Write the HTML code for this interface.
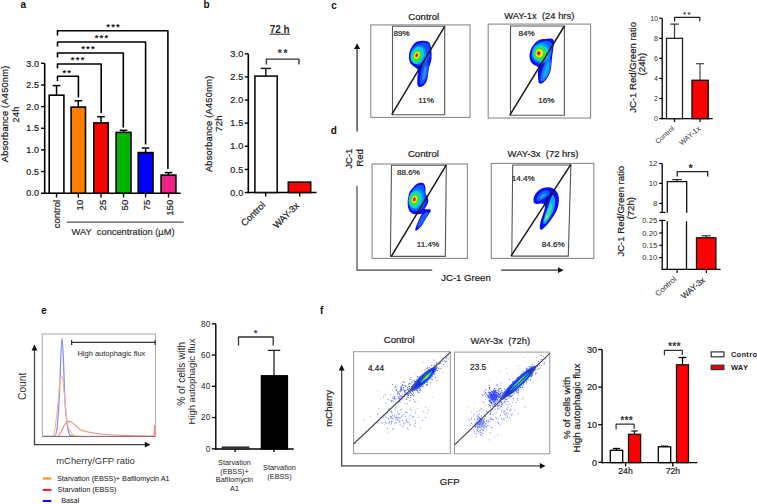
<!DOCTYPE html>
<html><head><meta charset="utf-8"><style>
html,body{margin:0;padding:0;background:#fff;overflow:hidden;}
svg{display:block;}
text{font-family:"Liberation Sans",sans-serif;}
</style></head><body>
<svg width="757" height="504" viewBox="0 0 757 504">
<rect width="757" height="504" fill="#fff"/>
<defs><filter id="b6" x="-50%" y="-50%" width="200%" height="200%"><feGaussianBlur stdDeviation="0.6"/></filter><filter id="b9" x="-50%" y="-50%" width="200%" height="200%"><feGaussianBlur stdDeviation="0.9"/></filter><filter id="b7" x="-50%" y="-50%" width="200%" height="200%"><feGaussianBlur stdDeviation="0.75"/></filter><filter id="b4" x="-50%" y="-50%" width="200%" height="200%"><feGaussianBlur stdDeviation="0.4"/></filter><filter id="b3" x="-50%" y="-50%" width="200%" height="200%"><feGaussianBlur stdDeviation="0.3"/></filter></defs>
<text x="20.5" y="8" font-size="10" text-anchor="start" font-weight="bold" fill="#111" stroke="#111" stroke-width="0" >a</text>
<line x1="44.7" y1="63.3" x2="44.7" y2="193.95" stroke="#000" stroke-width="1.6"/>
<line x1="41" y1="63.3" x2="44.7" y2="63.3" stroke="#000" stroke-width="1.4"/>
<text x="39.3" y="66.5" font-size="8.9" text-anchor="end" font-weight="normal" fill="#1e1e1e" stroke="#1e1e1e" stroke-width="0.22" letter-spacing="0.25">3.0</text>
<line x1="41" y1="84.94999999999999" x2="44.7" y2="84.94999999999999" stroke="#000" stroke-width="1.4"/>
<text x="39.3" y="88.14999999999999" font-size="8.9" text-anchor="end" font-weight="normal" fill="#1e1e1e" stroke="#1e1e1e" stroke-width="0.22" letter-spacing="0.25">2.5</text>
<line x1="41" y1="106.6" x2="44.7" y2="106.6" stroke="#000" stroke-width="1.4"/>
<text x="39.3" y="109.8" font-size="8.9" text-anchor="end" font-weight="normal" fill="#1e1e1e" stroke="#1e1e1e" stroke-width="0.22" letter-spacing="0.25">2.0</text>
<line x1="41" y1="128.25" x2="44.7" y2="128.25" stroke="#000" stroke-width="1.4"/>
<text x="39.3" y="131.45" font-size="8.9" text-anchor="end" font-weight="normal" fill="#1e1e1e" stroke="#1e1e1e" stroke-width="0.22" letter-spacing="0.25">1.5</text>
<line x1="41" y1="149.89999999999998" x2="44.7" y2="149.89999999999998" stroke="#000" stroke-width="1.4"/>
<text x="39.3" y="153.09999999999997" font-size="8.9" text-anchor="end" font-weight="normal" fill="#1e1e1e" stroke="#1e1e1e" stroke-width="0.22" letter-spacing="0.25">1.0</text>
<line x1="41" y1="171.55" x2="44.7" y2="171.55" stroke="#000" stroke-width="1.4"/>
<text x="39.3" y="174.75" font-size="8.9" text-anchor="end" font-weight="normal" fill="#1e1e1e" stroke="#1e1e1e" stroke-width="0.22" letter-spacing="0.25">0.5</text>
<line x1="41" y1="193.2" x2="44.7" y2="193.2" stroke="#000" stroke-width="1.4"/>
<text x="39.3" y="196.39999999999998" font-size="8.9" text-anchor="end" font-weight="normal" fill="#1e1e1e" stroke="#1e1e1e" stroke-width="0.22" letter-spacing="0.25">0.0</text>
<line x1="43.95" y1="193.2" x2="180.7" y2="193.2" stroke="#000" stroke-width="1.6"/>
<line x1="56.55" y1="95.2" x2="56.55" y2="85.6" stroke="#000" stroke-width="1.5"/>
<line x1="52.75" y1="85.6" x2="60.349999999999994" y2="85.6" stroke="#000" stroke-width="1.5"/>
<rect x="49.2" y="95.2" width="14.70" height="98.00" fill="#fff" stroke="#000" stroke-width="1.6"/>
<line x1="56.55" y1="193.2" x2="56.55" y2="197.4" stroke="#000" stroke-width="1.4"/>
<line x1="78.3" y1="107.1" x2="78.3" y2="100.8" stroke="#000" stroke-width="1.5"/>
<line x1="74.5" y1="100.8" x2="82.1" y2="100.8" stroke="#000" stroke-width="1.5"/>
<rect x="71.1" y="107.1" width="14.40" height="86.10" fill="#ff8000" stroke="#000" stroke-width="1.6"/>
<line x1="78.3" y1="193.2" x2="78.3" y2="197.4" stroke="#000" stroke-width="1.4"/>
<line x1="101.0" y1="122.9" x2="101.0" y2="116.7" stroke="#000" stroke-width="1.5"/>
<line x1="97.2" y1="116.7" x2="104.8" y2="116.7" stroke="#000" stroke-width="1.5"/>
<rect x="93.8" y="122.9" width="14.40" height="70.30" fill="#ff0000" stroke="#000" stroke-width="1.6"/>
<line x1="101.0" y1="193.2" x2="101.0" y2="197.4" stroke="#000" stroke-width="1.4"/>
<line x1="123.55" y1="132.4" x2="123.55" y2="130.3" stroke="#000" stroke-width="1.5"/>
<line x1="119.75" y1="130.3" x2="127.35" y2="130.3" stroke="#000" stroke-width="1.5"/>
<rect x="116.1" y="132.4" width="14.90" height="60.80" fill="#00b400" stroke="#000" stroke-width="1.6"/>
<line x1="123.55" y1="193.2" x2="123.55" y2="197.4" stroke="#000" stroke-width="1.4"/>
<line x1="145.6" y1="152.6" x2="145.6" y2="148.0" stroke="#000" stroke-width="1.5"/>
<line x1="141.79999999999998" y1="148.0" x2="149.4" y2="148.0" stroke="#000" stroke-width="1.5"/>
<rect x="138.2" y="152.6" width="14.80" height="40.60" fill="#0000ff" stroke="#000" stroke-width="1.6"/>
<line x1="145.6" y1="193.2" x2="145.6" y2="197.4" stroke="#000" stroke-width="1.4"/>
<line x1="168.5" y1="175.1" x2="168.5" y2="172.6" stroke="#000" stroke-width="1.5"/>
<line x1="164.7" y1="172.6" x2="172.3" y2="172.6" stroke="#000" stroke-width="1.5"/>
<rect x="161.1" y="175.1" width="14.80" height="18.10" fill="#ee2288" stroke="#000" stroke-width="1.6"/>
<line x1="168.5" y1="193.2" x2="168.5" y2="197.4" stroke="#000" stroke-width="1.4"/>
<text x="59.949999999999996" y="199.8" font-size="9.5" text-anchor="end" font-weight="normal" fill="#1e1e1e" stroke="#1e1e1e" stroke-width="0.22" transform="rotate(-90 59.949999999999996 199.8)" >control</text>
<text x="83.1" y="199.8" font-size="9.5" text-anchor="end" font-weight="normal" fill="#1e1e1e" stroke="#1e1e1e" stroke-width="0.22" transform="rotate(-90 83.1 199.8)" >10</text>
<text x="105.8" y="199.8" font-size="9.5" text-anchor="end" font-weight="normal" fill="#1e1e1e" stroke="#1e1e1e" stroke-width="0.22" transform="rotate(-90 105.8 199.8)" >25</text>
<text x="128.35" y="199.8" font-size="9.5" text-anchor="end" font-weight="normal" fill="#1e1e1e" stroke="#1e1e1e" stroke-width="0.22" transform="rotate(-90 128.35 199.8)" >50</text>
<text x="150.4" y="199.8" font-size="9.5" text-anchor="end" font-weight="normal" fill="#1e1e1e" stroke="#1e1e1e" stroke-width="0.22" transform="rotate(-90 150.4 199.8)" >75</text>
<text x="173.3" y="199.8" font-size="9.5" text-anchor="end" font-weight="normal" fill="#1e1e1e" stroke="#1e1e1e" stroke-width="0.22" transform="rotate(-90 173.3 199.8)" >150</text>
<line x1="66.7" y1="222.1" x2="183.7" y2="222.1" stroke="#555" stroke-width="1.1"/>
<text x="71.5" y="235.4" font-size="9.3" text-anchor="start" font-weight="normal" fill="#333" stroke="#333" stroke-width="0.22" >WAY&#160;&#160;concentration (µM)</text>
<text x="8.1" y="113.9" font-size="9.2" text-anchor="middle" font-weight="normal" fill="#1e1e1e" stroke="#1e1e1e" stroke-width="0.22" transform="rotate(-90 8.1 113.9)" letter-spacing="0.25">Absorbance (A450nm)</text>
<text x="19.5" y="114.4" font-size="9.2" text-anchor="middle" font-weight="normal" fill="#1e1e1e" stroke="#1e1e1e" stroke-width="0.22" transform="rotate(-90 19.5 114.4)" letter-spacing="0.25">24h</text>
<path d="M57.5 35.4 V30.8 H167.9 V168.9" stroke="#000" stroke-width="1.6" fill="none" stroke-linejoin="round"/>
<text x="106.26" y="30.05" font-size="9.5" font-weight="bold" fill="#1a1a1a" letter-spacing="1.2">***</text>
<path d="M57.5 46.6 V42.0 H145.6 V144.6" stroke="#000" stroke-width="1.6" fill="none" stroke-linejoin="round"/>
<text x="94.66" y="41.45" font-size="9.5" font-weight="bold" fill="#1a1a1a" letter-spacing="1.2">***</text>
<path d="M57.5 57.6 V53.0 H123.3 V127.5" stroke="#000" stroke-width="1.6" fill="none" stroke-linejoin="round"/>
<text x="81.16" y="51.66" font-size="9.5" font-weight="bold" fill="#1a1a1a" letter-spacing="1.2">***</text>
<path d="M57.5 68.6 V64.0 H101.2 V113.0" stroke="#000" stroke-width="1.6" fill="none" stroke-linejoin="round"/>
<text x="70.86" y="63.25" font-size="9.5" font-weight="bold" fill="#1a1a1a" letter-spacing="1.2">***</text>
<path d="M57.5 80.89999999999999 V76.3 H78.4 V97.6" stroke="#000" stroke-width="1.6" fill="none" stroke-linejoin="round"/>
<text x="62.40" y="76.16" font-size="9.5" font-weight="bold" fill="#1a1a1a" letter-spacing="1.2">**</text>
<text x="203.5" y="7.6" font-size="10" text-anchor="start" font-weight="bold" fill="#111" stroke="#111" stroke-width="0" >b</text>
<text x="279.7" y="33.3" font-size="10" text-anchor="middle" font-weight="bold" fill="#2a2a2a" stroke="#2a2a2a" stroke-width="0" >72 h</text>
<line x1="269.6" y1="34.2" x2="290.0" y2="34.2" stroke="#333" stroke-width="1.1"/>
<line x1="248.3" y1="53.8" x2="248.3" y2="193.2" stroke="#000" stroke-width="1.6"/>
<line x1="244.8" y1="53.8" x2="248.3" y2="53.8" stroke="#000" stroke-width="1.4"/>
<text x="243.4" y="57.0" font-size="9.0" text-anchor="end" font-weight="normal" fill="#1e1e1e" stroke="#1e1e1e" stroke-width="0.22" letter-spacing="0.25">3.0</text>
<line x1="244.8" y1="76.92" x2="248.3" y2="76.92" stroke="#000" stroke-width="1.4"/>
<text x="243.4" y="80.12" font-size="9.0" text-anchor="end" font-weight="normal" fill="#1e1e1e" stroke="#1e1e1e" stroke-width="0.22" letter-spacing="0.25">2.5</text>
<line x1="244.8" y1="100.03999999999999" x2="248.3" y2="100.03999999999999" stroke="#000" stroke-width="1.4"/>
<text x="243.4" y="103.24" font-size="9.0" text-anchor="end" font-weight="normal" fill="#1e1e1e" stroke="#1e1e1e" stroke-width="0.22" letter-spacing="0.25">2.0</text>
<line x1="244.8" y1="123.16" x2="248.3" y2="123.16" stroke="#000" stroke-width="1.4"/>
<text x="243.4" y="126.36" font-size="9.0" text-anchor="end" font-weight="normal" fill="#1e1e1e" stroke="#1e1e1e" stroke-width="0.22" letter-spacing="0.25">1.5</text>
<line x1="244.8" y1="146.28" x2="248.3" y2="146.28" stroke="#000" stroke-width="1.4"/>
<text x="243.4" y="149.48" font-size="9.0" text-anchor="end" font-weight="normal" fill="#1e1e1e" stroke="#1e1e1e" stroke-width="0.22" letter-spacing="0.25">1.0</text>
<line x1="244.8" y1="169.4" x2="248.3" y2="169.4" stroke="#000" stroke-width="1.4"/>
<text x="243.4" y="172.6" font-size="9.0" text-anchor="end" font-weight="normal" fill="#1e1e1e" stroke="#1e1e1e" stroke-width="0.22" letter-spacing="0.25">0.5</text>
<line x1="244.8" y1="192.51999999999998" x2="248.3" y2="192.51999999999998" stroke="#000" stroke-width="1.4"/>
<text x="243.4" y="195.71999999999997" font-size="9.0" text-anchor="end" font-weight="normal" fill="#1e1e1e" stroke="#1e1e1e" stroke-width="0.22" letter-spacing="0.25">0.0</text>
<line x1="247.60000000000002" y1="192.5" x2="316.6" y2="192.5" stroke="#000" stroke-width="1.6"/>
<line x1="265.8" y1="76.1" x2="265.8" y2="68.4" stroke="#222" stroke-width="1.5"/>
<line x1="260.6" y1="68.4" x2="271.0" y2="68.4" stroke="#222" stroke-width="1.5"/>
<rect x="254.9" y="76.1" width="22.30" height="116.40" fill="#fff" stroke="#111" stroke-width="1.6"/>
<rect x="288.3" y="182.1" width="22.40" height="10.40" fill="#ff0000" stroke="#111" stroke-width="1.6"/>
<line x1="265.7" y1="192.5" x2="265.7" y2="196.5" stroke="#000" stroke-width="1.4"/>
<line x1="299.7" y1="192.5" x2="299.7" y2="196.5" stroke="#000" stroke-width="1.4"/>
<path d="M266.4 64.6 V59.1 H299.0 V64.6" stroke="#333" stroke-width="1.4" fill="none" stroke-linejoin="round"/>
<text x="277.72" y="57.14" font-size="10.5" font-weight="bold" fill="#333" letter-spacing="1.6">**</text>
<text x="266.0" y="205.6" font-size="9.3" text-anchor="end" font-weight="normal" fill="#1e1e1e" stroke="#1e1e1e" stroke-width="0.22" transform="rotate(-45 266.0 205.6)" >Control</text>
<text x="299.7" y="206.2" font-size="9.3" text-anchor="end" font-weight="normal" fill="#1e1e1e" stroke="#1e1e1e" stroke-width="0.22" transform="rotate(-45 299.7 206.2)" >WAY-3x</text>
<text x="212.0" y="123.75" font-size="9.2" text-anchor="middle" font-weight="normal" fill="#1e1e1e" stroke="#1e1e1e" stroke-width="0.22" transform="rotate(-90 212.0 123.75)" letter-spacing="0.25">Absorbance (A450nm)</text>
<text x="222.4" y="123.5" font-size="9.5" text-anchor="middle" font-weight="normal" fill="#1e1e1e" stroke="#1e1e1e" stroke-width="0.22" transform="rotate(-90 222.4 123.5)" letter-spacing="0.25">72h</text>
<text x="331.2" y="8.7" font-size="10" text-anchor="start" font-weight="bold" fill="#111" stroke="#111" stroke-width="0" >c</text>
<path d="M357.1 131.6 V48" stroke="#333" stroke-width="1.3" fill="none" />
<path d="M354.1 48.9 L357.1 43.2 L360.1 48.9 Z" fill="#111" />
<rect x="370.8" y="24.9" width="99.20" height="92.50" fill="none" stroke="#8a8a8a" stroke-width="1.1"/>
<path d="M392.5 26.3 L444.7 26.3 L444.7 114.7 L392.5 114.7 Z" stroke="#555" stroke-width="1.1" fill="none" />
<text x="423.8" y="20.2" font-size="9.6" text-anchor="middle" font-weight="normal" fill="#1e1e1e" stroke="#1e1e1e" stroke-width="0.22" >Control</text>
<text x="393.6" y="36.4" font-size="8.1" text-anchor="start" font-weight="normal" fill="#1e1e1e" stroke="#1e1e1e" stroke-width="0.22" >89%</text>
<text x="418.3" y="102.6" font-size="8.1" text-anchor="start" font-weight="normal" fill="#1e1e1e" stroke="#1e1e1e" stroke-width="0.22" >11%</text>
<rect x="488.2" y="24.1" width="102.40" height="93.90" fill="none" stroke="#8a8a8a" stroke-width="1.1"/>
<path d="M510.5 26 L564.4 26 L564.4 115.3 L510.5 115.3 Z" stroke="#555" stroke-width="1.1" fill="none" />
<text x="539.3" y="19.3" font-size="9.4" text-anchor="middle" font-weight="normal" fill="#1e1e1e" stroke="#1e1e1e" stroke-width="0.22" >WAY-1x&#160; (24 hrs)</text>
<text x="518.6" y="36.4" font-size="8.1" text-anchor="start" font-weight="normal" fill="#1e1e1e" stroke="#1e1e1e" stroke-width="0.22" >84%</text>
<text x="538.2" y="102.6" font-size="8.1" text-anchor="start" font-weight="normal" fill="#1e1e1e" stroke="#1e1e1e" stroke-width="0.22" >16%</text>
<g filter="url(#b6)">
<path d="M411.9 46.9 C414 43 416 41.5 420 41 C424 40.4 427.4 40.2 429.8 43.3 C431.5 47 431.8 52.9 431.5 58.8 C431 63 429 66 428.6 70 C428 75 427.5 79 426.8 81 C425 85 423 86.5 420 87 C417.5 87 417 84 417.3 80.2 C417.5 76 417.9 72 417.9 69.5 C416.5 68.5 415.5 68 414.9 67.1 C412.5 65.5 410.8 64 410.1 62.4 C409 60 408.8 58 408.9 56.4 C409 53 409.5 50 411.9 46.9 Z" fill="#0a0af0" />
<path d="M413 48 C416 43.5 421 42.5 426 42.8 C429.5 43.5 430.5 48 430 55 C429.5 60 427 64 423 65.5 C419 66.5 414 65 411.5 61 C410 57 410.5 51 413 48 Z" fill="#0a50ff" />
<path d="M425 62 C428 60 429.5 63 428.5 70 C428 76 426 82 422 84.5 C420 85 419.5 82 420 78 C421 72 422 65 425 62 Z" fill="#1850ff" />
<path d="M425.5 66 C427 66 427 70 426 74 C425 78 423.5 81 422.5 80.5 C422 79 422.5 75 423.5 71 C424 68 424.8 66 425.5 66 Z" fill="#2a90ff" />
</g>
<g filter="url(#b7)">
<ellipse cx="418.2" cy="54.8" rx="7.5" ry="9.5" fill="#0090ff" transform="rotate(20 418.2 54.8)"/>
<ellipse cx="417.4" cy="55.3" rx="6.4" ry="8.8" fill="#00d0f0" transform="rotate(20 417.4 55.3)"/>
<ellipse cx="416.6" cy="56.2" rx="4.8" ry="6.8" fill="#30e050" transform="rotate(20 416.6 56.2)"/>
<ellipse cx="416.8" cy="55.3" rx="2.7" ry="3.7" fill="#f0f000" transform="rotate(20 416.8 55.3)"/>
<ellipse cx="416.7" cy="55.2" rx="1.5" ry="2.2" fill="#ff5000" transform="rotate(20 416.7 55.2)"/>
<ellipse cx="416.7" cy="55.2" rx="0.8" ry="1.3" fill="#d00000" transform="rotate(20 416.7 55.2)"/>
</g>
<line x1="391.7" y1="114.7" x2="444.7" y2="26.3" stroke="#1a1a1a" stroke-width="1.5"/>
<g filter="url(#b6)">
<path d="M535.5 42.5 C538 40 541 39 543.8 39 C547 38.6 549 38.3 551 38.4 C553 38.6 554.2 40 553.9 41.3 C553.8 44 553.5 46 553.3 48.5 C553 51 552.5 54 552.1 56.8 C551.8 61 551.5 65 551 68.7 C550 73 548.5 77 546.2 79.4 C544 82 542 83.8 540.2 83.6 C538.8 83.5 538.5 82.5 538.5 81.8 C538 78 537.8 75 537.9 72.3 C538 70 538.3 68.5 538.5 67.5 C537 66.5 535.5 65.8 534.3 65.1 C532.5 64 531.5 63 530.7 61.6 C529.8 59.5 529.4 57.5 529.5 55.6 C529.8 52 530.5 49.5 531.9 47.3 C533 45.5 534.2 43.8 535.5 42.5 Z" fill="#1010f0" />
<path d="M533 49 C535 44 540 41.5 546 41 C551 40.8 552.5 43 552 49 C551.5 56 549 61.5 544 63.5 C539 64.5 534 63 532 59 C531 56 531.5 52 533 49 Z" fill="#0a60ff" />
<path d="M549 58 C551.5 58 551.5 65 550 70 C548.5 76 545 81 541.5 81.5 C540 81 540.5 77 541.5 73 C543 67 546 59 549 58 Z" fill="#1f70ff" />
<path d="M548.5 62 C550 63 549.5 68 548 72 C546.5 76 544 79 543 78.5 C542.5 77 543.5 73 545 69 C546 66 547.5 62 548.5 62 Z" fill="#10b0ff" />
</g>
<g filter="url(#b7)">
<ellipse cx="541.5" cy="52.5" rx="9.5" ry="10" fill="#0090ff" transform="rotate(15 541.5 52.5)"/>
<ellipse cx="540.6" cy="53.2" rx="8.0" ry="8.6" fill="#00d0f0" transform="rotate(15 540.6 53.2)"/>
<ellipse cx="540.0" cy="53.3" rx="6.4" ry="7.2" fill="#30e050" transform="rotate(15 540.0 53.3)"/>
<ellipse cx="539.3" cy="53.3" rx="3.6" ry="4.0" fill="#f0f000" transform="rotate(15 539.3 53.3)"/>
<ellipse cx="538.7" cy="53.2" rx="2.0" ry="2.4" fill="#ff5000" transform="rotate(15 538.7 53.2)"/>
<ellipse cx="538.6" cy="53.2" rx="1.1" ry="1.4" fill="#d00000" transform="rotate(15 538.6 53.2)"/>
</g>
<line x1="509.7" y1="115.3" x2="564.4" y2="26" stroke="#1a1a1a" stroke-width="1.5"/>
<line x1="662.2" y1="18.2" x2="662.2" y2="119.19999999999999" stroke="#000" stroke-width="1.3"/>
<line x1="659.2" y1="18.2" x2="662.2" y2="18.2" stroke="#000" stroke-width="1.2"/>
<text x="658.0" y="20.7" font-size="7.0" text-anchor="end" font-weight="normal" fill="#333" stroke="#333" stroke-width="0" >10</text>
<line x1="659.2" y1="38.28" x2="662.2" y2="38.28" stroke="#000" stroke-width="1.2"/>
<text x="658.0" y="40.78" font-size="7.0" text-anchor="end" font-weight="normal" fill="#333" stroke="#333" stroke-width="0" >8</text>
<line x1="659.2" y1="58.36" x2="662.2" y2="58.36" stroke="#000" stroke-width="1.2"/>
<text x="658.0" y="60.86" font-size="7.0" text-anchor="end" font-weight="normal" fill="#333" stroke="#333" stroke-width="0" >6</text>
<line x1="659.2" y1="78.44" x2="662.2" y2="78.44" stroke="#000" stroke-width="1.2"/>
<text x="658.0" y="80.94" font-size="7.0" text-anchor="end" font-weight="normal" fill="#333" stroke="#333" stroke-width="0" >4</text>
<line x1="659.2" y1="98.52" x2="662.2" y2="98.52" stroke="#000" stroke-width="1.2"/>
<text x="658.0" y="101.02" font-size="7.0" text-anchor="end" font-weight="normal" fill="#333" stroke="#333" stroke-width="0" >2</text>
<line x1="659.2" y1="118.6" x2="662.2" y2="118.6" stroke="#000" stroke-width="1.2"/>
<text x="658.0" y="121.1" font-size="7.0" text-anchor="end" font-weight="normal" fill="#333" stroke="#333" stroke-width="0" >0</text>
<line x1="661.6" y1="118.6" x2="712.7" y2="118.6" stroke="#000" stroke-width="1.3"/>
<line x1="674.5" y1="38.3" x2="674.5" y2="24.1" stroke="#333" stroke-width="1.2"/>
<line x1="670.2" y1="24.1" x2="678.8" y2="24.1" stroke="#333" stroke-width="1.2"/>
<rect x="666.5" y="38.3" width="16.00" height="80.30" fill="#fff" stroke="#222" stroke-width="1.3"/>
<line x1="700.0" y1="80.3" x2="700.0" y2="63.7" stroke="#444" stroke-width="1.2"/>
<line x1="696.0" y1="63.7" x2="704.0" y2="63.7" stroke="#444" stroke-width="1.2"/>
<rect x="692.0" y="80.3" width="16.20" height="38.30" fill="#ff0000" stroke="#111" stroke-width="1.4"/>
<line x1="674.5" y1="118.6" x2="674.5" y2="122" stroke="#000" stroke-width="1.2"/>
<line x1="700" y1="118.6" x2="700" y2="122" stroke="#000" stroke-width="1.2"/>
<path d="M674.6 21.5 V17.4 H699.8 V21.5" stroke="#222" stroke-width="1.2" fill="none" stroke-linejoin="round"/>
<text x="682.94" y="17.42" font-size="8" font-weight="bold" fill="#333" letter-spacing="1.5">**</text>
<text x="674.7" y="129.2" font-size="7.0" text-anchor="end" font-weight="normal" fill="#3a3a3a" stroke="#3a3a3a" stroke-width="0" transform="rotate(-42 674.7 129.2)" >Control</text>
<text x="701.0" y="129.4" font-size="7.3" text-anchor="end" font-weight="normal" fill="#3a3a3a" stroke="#3a3a3a" stroke-width="0" transform="rotate(-40 701.0 129.4)" >WAY-1x</text>
<text x="636.0" y="67.35" font-size="9.55" text-anchor="middle" font-weight="normal" fill="#1e1e1e" stroke="#1e1e1e" stroke-width="0.22" transform="rotate(-90 636.0 67.35)" >JC-1 Red/Green ratio</text>
<text x="645.1" y="64.1" font-size="9.7" text-anchor="middle" font-weight="normal" fill="#1e1e1e" stroke="#1e1e1e" stroke-width="0.22" transform="rotate(-90 645.1 64.1)" >(24h)</text>
<text x="330.7" y="134.4" font-size="10" text-anchor="start" font-weight="bold" fill="#111" stroke="#111" stroke-width="0" >d</text>
<text x="352.3" y="158.7" font-size="9.6" text-anchor="middle" font-weight="normal" fill="#1e1e1e" stroke="#1e1e1e" stroke-width="0.22" transform="rotate(-90 352.3 158.7)" >JC-1</text>
<text x="362.8" y="157.9" font-size="9.6" text-anchor="middle" font-weight="normal" fill="#1e1e1e" stroke="#1e1e1e" stroke-width="0.22" transform="rotate(-90 362.8 157.9)" >Red</text>
<path d="M357 185.7 V270.2 H432.2" stroke="#444" stroke-width="1.2" fill="none" />
<text x="441.2" y="281.2" font-size="9.6" text-anchor="start" font-weight="normal" fill="#1e1e1e" stroke="#1e1e1e" stroke-width="0.22" >JC-1 Green</text>
<path d="M501.1 270.2 H559" stroke="#333" stroke-width="1.3" fill="none" />
<path d="M558 267.3 L563.6 270.2 L558 273.1 Z" fill="#111" />
<rect x="372.1" y="164.0" width="95.30" height="94.40" fill="none" stroke="#8a8a8a" stroke-width="1.1"/>
<path d="M391.5 165.2 L446.3 165.2 L445.3 256.4 L390.40000000000003 256.4 Z" stroke="#555" stroke-width="1.1" fill="none" />
<text x="423.4" y="157.2" font-size="9.6" text-anchor="middle" font-weight="normal" fill="#1e1e1e" stroke="#1e1e1e" stroke-width="0.22" >Control</text>
<text x="397.0" y="175.0" font-size="8.1" text-anchor="start" font-weight="normal" fill="#1e1e1e" stroke="#1e1e1e" stroke-width="0.22" >88.6%</text>
<text x="416.8" y="247.4" font-size="8.1" text-anchor="start" font-weight="normal" fill="#1e1e1e" stroke="#1e1e1e" stroke-width="0.22" >11.4%</text>
<rect x="491.3" y="163.4" width="102.50" height="95.00" fill="none" stroke="#8a8a8a" stroke-width="1.1"/>
<path d="M512.6999999999999 165.0 L570.9 165.0 L568.3 256.1 L511.8 256.1 Z" stroke="#555" stroke-width="1.1" fill="none" />
<text x="543.0" y="156.5" font-size="9.5" text-anchor="middle" font-weight="normal" fill="#1e1e1e" stroke="#1e1e1e" stroke-width="0.22" >WAY-3x&#160; (72 hrs)</text>
<text x="511.7" y="180.6" font-size="8.1" text-anchor="start" font-weight="normal" fill="#1e1e1e" stroke="#1e1e1e" stroke-width="0.22" >14.4%</text>
<text x="541.8" y="247.4" font-size="8.1" text-anchor="start" font-weight="normal" fill="#1e1e1e" stroke="#1e1e1e" stroke-width="0.22" >84.6%</text>
<g filter="url(#b6)">
<path d="M413.1 187.5 C415 185 417.5 183 420.2 182.8 C422 182.6 423 182.8 423.8 183.4 C425 185 425.6 187 425.6 188.7 C425.6 190.5 425.5 192 425.6 193.5 C426.2 195.5 427.5 196.5 428 198.2 C428.6 200.5 428.2 202.5 427.4 204.2 C426.5 206 425.5 207.5 424.4 209 C426 209.3 428.5 209.2 430.4 209.5 C431.2 210.5 430.8 211.8 429.8 212.5 C427.5 216 425.5 219.5 423.2 223.2 C421 226.5 418.5 229.8 416.7 230.4 C415.5 230.8 414.9 230 415.2 229.2 C416 226.5 417 224 417.9 222 C419 219 420.5 216 422 213.7 C420 214 417 214.3 414.3 214.3 C412.5 213.8 410.8 212.8 409.5 211.3 C408.3 209 407.8 206.5 407.7 204.2 C407.6 201.5 407.8 199 408.3 197 C408.8 194.5 409.3 192.5 410.1 191.1 C411 189.8 412 188.5 413.1 187.5 Z" fill="#1010f0" />
<path d="M412 192 C414 186 419 184.5 422.5 185 C425 186 424.5 192 425.5 196 C427 200 426 205 422 209 C418 212 413 212 410.5 209 C409 205 410 196 412 192 Z" fill="#0d5cff" />
<path d="M427 212 C429 211.5 428.5 214 426 218 C423.5 222 420 227 418 227.5 C417 227 418 223 420 219.5 C422 216 424.5 212.5 427 212 Z" fill="#1a60ff" />
</g>
<g filter="url(#b7)">
<ellipse cx="416.5" cy="198.5" rx="7.5" ry="10" fill="#0090ff" transform="rotate(15 416.5 198.5)"/>
<ellipse cx="415.3" cy="199.6" rx="6.6" ry="9.0" fill="#00d0f0" transform="rotate(15 415.3 199.6)"/>
<ellipse cx="414.8" cy="199.5" rx="5.0" ry="6.9" fill="#30e050" transform="rotate(15 414.8 199.5)"/>
<ellipse cx="414.5" cy="199.4" rx="2.7" ry="3.8" fill="#f0f000" transform="rotate(15 414.5 199.4)"/>
<ellipse cx="414.3" cy="199.4" rx="1.6" ry="2.3" fill="#ff5000" transform="rotate(15 414.3 199.4)"/>
<ellipse cx="414.3" cy="199.4" rx="0.9" ry="1.4" fill="#d00000" transform="rotate(15 414.3 199.4)"/>
</g>
<line x1="391.3" y1="256.4" x2="446.3" y2="164.8" stroke="#1a1a1a" stroke-width="1.5"/>
<g filter="url(#b6)">
<path d="M533.5 201 C533 196 537 190 543 188 C549 186 554 187.5 557 192 C560 197 559.5 205 556 212 C552 219 546 227 542 229.5 C539.5 230.5 539.3 227 540.5 222 C542 216 545.5 209 545 205 C543 202.5 540 204 537 204 C535 204 533.5 203 533.5 201 Z" fill="#1010f0" />
<path d="M536.5 199.5 C537 195.5 540.5 191.5 545 190.5 C548.5 190 550.5 191.5 549 194.5 C547 197 543 199.5 540 200.5 C538 201.2 536.5 201 536.5 199.5 Z" fill="#0a60ff" />
<path d="M539.5 197.5 C540.5 195.5 542.5 194 545 193.5 C546.5 193.3 547 194 546 195.5 C545 196.5 543 197.8 541.5 198.3 C540.2 198.7 539.3 198.3 539.5 197.5 Z" fill="#1a9cff" />
<path d="M552.5 195 C556 197 556 205 553 211.5 C550 218 546.5 223.5 544 224.5 C542.5 224 543.5 218 546 212 C548.5 206 550 199 552.5 195 Z" fill="#10a8ff" />
<path d="M551.5 203 C553 206 552 211 549.5 215.5 C547.5 219.5 545.5 222 544.6 221.5 C544.4 219 546 214 548 209.5 C549.5 206 550.5 202.5 551.5 203 Z" fill="#30e0a0" />
<ellipse cx="547.0" cy="217.0" rx="1.0" ry="2.2" fill="#c8e020" transform="rotate(30 547.0 217.0)"/>
</g>
<line x1="511.0" y1="256.1" x2="570.9" y2="164.4" stroke="#1a1a1a" stroke-width="1.5"/>
<line x1="662.2" y1="163.5" x2="662.2" y2="212.4" stroke="#000" stroke-width="1.3"/>
<line x1="659.8" y1="212.4" x2="665.4" y2="212.4" stroke="#000" stroke-width="1.2"/>
<line x1="662.2" y1="220.4" x2="662.2" y2="270.0" stroke="#000" stroke-width="1.3"/>
<line x1="659.8" y1="220.4" x2="665.4" y2="220.4" stroke="#000" stroke-width="1.2"/>
<line x1="659.2" y1="163.5" x2="662.2" y2="163.5" stroke="#000" stroke-width="1.2"/>
<text x="657.2" y="166.1" font-size="7.7" text-anchor="end" font-weight="normal" fill="#333" stroke="#333" stroke-width="0" >12</text>
<line x1="659.2" y1="183.4" x2="662.2" y2="183.4" stroke="#000" stroke-width="1.2"/>
<text x="657.2" y="186.0" font-size="7.7" text-anchor="end" font-weight="normal" fill="#333" stroke="#333" stroke-width="0" >10</text>
<line x1="659.2" y1="203.4" x2="662.2" y2="203.4" stroke="#000" stroke-width="1.2"/>
<text x="657.2" y="206.0" font-size="7.7" text-anchor="end" font-weight="normal" fill="#333" stroke="#333" stroke-width="0" >8</text>
<line x1="659.2" y1="220.5" x2="662.2" y2="220.5" stroke="#000" stroke-width="1.2"/>
<text x="657.2" y="223.1" font-size="7.7" text-anchor="end" font-weight="normal" fill="#333" stroke="#333" stroke-width="0" >0.25</text>
<line x1="659.2" y1="233.0" x2="662.2" y2="233.0" stroke="#000" stroke-width="1.2"/>
<text x="657.2" y="235.6" font-size="7.7" text-anchor="end" font-weight="normal" fill="#333" stroke="#333" stroke-width="0" >0.20</text>
<line x1="659.2" y1="245.3" x2="662.2" y2="245.3" stroke="#000" stroke-width="1.2"/>
<text x="657.2" y="247.9" font-size="7.7" text-anchor="end" font-weight="normal" fill="#333" stroke="#333" stroke-width="0" >0.15</text>
<line x1="659.2" y1="257.6" x2="662.2" y2="257.6" stroke="#000" stroke-width="1.2"/>
<text x="657.2" y="260.20000000000005" font-size="7.7" text-anchor="end" font-weight="normal" fill="#333" stroke="#333" stroke-width="0" >0.10</text>
<line x1="661.6" y1="269.4" x2="720.6" y2="269.4" stroke="#000" stroke-width="1.3"/>
<line x1="677.0" y1="181.6" x2="677.0" y2="179.6" stroke="#222" stroke-width="1.2"/>
<line x1="672.2" y1="179.6" x2="681.8" y2="179.6" stroke="#222" stroke-width="1.2"/>
<path d="M667.3 212.8 V181.6 H686.7 V212.8" stroke="#111" stroke-width="1.3" fill="none" />
<path d="M667.3 269.4 V221.2 M686.5 221.2 V269.4" stroke="#111" stroke-width="1.3" fill="none" />
<line x1="706.2" y1="237.8" x2="706.2" y2="235.8" stroke="#333" stroke-width="1.2"/>
<line x1="701.6" y1="235.8" x2="710.8000000000001" y2="235.8" stroke="#333" stroke-width="1.2"/>
<rect x="696.5" y="237.8" width="19.40" height="31.60" fill="#ff0000" stroke="#111" stroke-width="1.3"/>
<line x1="677.1" y1="269.4" x2="677.1" y2="273" stroke="#000" stroke-width="1.2"/>
<line x1="706.3" y1="269.4" x2="706.3" y2="273" stroke="#000" stroke-width="1.2"/>
<path d="M677.2 176.5 V171.6 H707.7 V176.5" stroke="#222" stroke-width="1.3" fill="none" stroke-linejoin="round"/>
<text x="688.46" y="171.99" font-size="11" font-weight="bold" fill="#222" letter-spacing="0">*</text>
<text x="677.0" y="279.8" font-size="7.9" text-anchor="end" font-weight="normal" fill="#3a3a3a" stroke="#3a3a3a" stroke-width="0" transform="rotate(-42 677.0 279.8)" >Control</text>
<text x="705.7" y="281.0" font-size="8.2" text-anchor="end" font-weight="normal" fill="#3a3a3a" stroke="#3a3a3a" stroke-width="0.22" transform="rotate(-40 705.7 281.0)" >WAY-3x</text>
<text x="623.7" y="211.2" font-size="9.55" text-anchor="middle" font-weight="normal" fill="#1e1e1e" stroke="#1e1e1e" stroke-width="0.22" transform="rotate(-90 623.7 211.2)" >JC-1 Red/Green ratio</text>
<text x="633.6" y="208.2" font-size="9.7" text-anchor="middle" font-weight="normal" fill="#1e1e1e" stroke="#1e1e1e" stroke-width="0.22" transform="rotate(-90 633.6 208.2)" >(72h)</text>
<text x="41.2" y="313.8" font-size="10" text-anchor="start" font-weight="bold" fill="#111" stroke="#111" stroke-width="0" >e</text>
<text x="25.6" y="386.3" font-size="10.2" text-anchor="middle" font-weight="normal" fill="#333" stroke="#333" stroke-width="0.0" transform="rotate(-90 25.6 386.3)" >Count</text>
<path d="M34.5 445.3 V349" stroke="#444" stroke-width="1.3" fill="none" />
<path d="M31.6 350.4 L34.5 344.6 L37.4 350.4 Z" fill="#111" />
<path d="M34.5 444.7 H146" stroke="#444" stroke-width="1.3" fill="none" />
<path d="M144.8 441.8 L150.5 444.7 L144.8 447.6 Z" fill="#111" />
<rect x="42.3" y="334.0" width="113.30" height="102.60" fill="none" stroke="#aaa" stroke-width="1.0"/>
<line x1="71.6" y1="342.4" x2="155.6" y2="342.4" stroke="#333" stroke-width="1.2"/>
<line x1="71.6" y1="340" x2="71.6" y2="345" stroke="#333" stroke-width="1.2"/>
<line x1="155.1" y1="340" x2="155.1" y2="345" stroke="#333" stroke-width="1.2"/>
<text x="77.4" y="356.3" font-size="7.5" text-anchor="start" font-weight="normal" fill="#1e1e1e" stroke="#1e1e1e" stroke-width="0" >High autophagic flux</text>
<path d="M43 436.3 L55 436.3 C57 435 58.5 420 60 380 C61 350 61.5 339 62 338.7 C62.5 339 63.2 350 64.3 385 C65.3 415 67 430 70 435.5 L74 436.3" stroke="#8c8cf0" stroke-width="1.3" fill="none" />
<path d="M53 436.3 C55 434 57 415 59.5 385 C60.5 376 61.5 375.5 62.5 378 C64 388 65.5 410 67 422 C68 428 70 433 74 435.5 L80 436.3" stroke="#f4b894" stroke-width="1.1" fill="none" />
<path d="M58 436.3 C60 435 62 430 64.5 425 C66.5 422 68.5 421 70 421.5 C73 422.5 76 426 80 429.5 C86 432.5 95 433.5 105 434.5 C115 435.3 130 435.8 154 436 L154.5 425 L155.5 436.3" stroke="#f08a8a" stroke-width="1.1" fill="none" />
<path d="M43 436.4 H155" stroke="#8a6a6a" stroke-width="1.0" fill="none" />
<text x="56.3" y="463.8" font-size="9.4" text-anchor="start" font-weight="normal" fill="#333" stroke="#333" stroke-width="0.0" >mCherry/GFP ratio</text>
<line x1="42.8" y1="478.5" x2="51.3" y2="478.5" stroke="#ff9020" stroke-width="2.1"/>
<text x="57.0" y="480.8" font-size="7.25" text-anchor="start" font-weight="normal" fill="#111" stroke="#111" stroke-width="0" >Starvation (EBSS)+ Bafilomycin A1</text>
<line x1="42.8" y1="489.9" x2="51.3" y2="489.9" stroke="#ee2020" stroke-width="2.1"/>
<text x="57.6" y="492.2" font-size="7.25" text-anchor="start" font-weight="normal" fill="#111" stroke="#111" stroke-width="0" >Starvation (EBSS)</text>
<line x1="42.8" y1="501" x2="51.3" y2="501" stroke="#1010ee" stroke-width="2.1"/>
<text x="61.2" y="503.4" font-size="7.25" text-anchor="start" font-weight="normal" fill="#111" stroke="#111" stroke-width="0" >Basal</text>
<line x1="215.8" y1="323.8" x2="215.8" y2="449.7" stroke="#000" stroke-width="1.4"/>
<line x1="211.8" y1="323.8" x2="215.8" y2="323.8" stroke="#000" stroke-width="1.3"/>
<text x="210.2" y="326.7" font-size="8.2" text-anchor="end" font-weight="normal" fill="#1e1e1e" stroke="#1e1e1e" stroke-width="0.0" >80</text>
<line x1="211.8" y1="355.05" x2="215.8" y2="355.05" stroke="#000" stroke-width="1.3"/>
<text x="210.2" y="357.95" font-size="8.2" text-anchor="end" font-weight="normal" fill="#1e1e1e" stroke="#1e1e1e" stroke-width="0.0" >60</text>
<line x1="211.8" y1="386.3" x2="215.8" y2="386.3" stroke="#000" stroke-width="1.3"/>
<text x="210.2" y="389.2" font-size="8.2" text-anchor="end" font-weight="normal" fill="#1e1e1e" stroke="#1e1e1e" stroke-width="0.0" >40</text>
<line x1="211.8" y1="417.55" x2="215.8" y2="417.55" stroke="#000" stroke-width="1.3"/>
<text x="210.2" y="420.45" font-size="8.2" text-anchor="end" font-weight="normal" fill="#1e1e1e" stroke="#1e1e1e" stroke-width="0.0" >20</text>
<line x1="211.8" y1="448.8" x2="215.8" y2="448.8" stroke="#000" stroke-width="1.3"/>
<text x="210.2" y="451.7" font-size="8.2" text-anchor="end" font-weight="normal" fill="#1e1e1e" stroke="#1e1e1e" stroke-width="0.0" >0</text>
<line x1="215.10000000000002" y1="449.0" x2="293.7" y2="449.0" stroke="#000" stroke-width="1.5"/>
<rect x="222.3" y="447.0" width="26.50" height="2.00" fill="#444" stroke="#222" stroke-width="1.1"/>
<line x1="274.0" y1="375.7" x2="274.0" y2="350.4" stroke="#222" stroke-width="1.3"/>
<line x1="267.7" y1="350.4" x2="280.3" y2="350.4" stroke="#222" stroke-width="1.3"/>
<rect x="261.3" y="375.7" width="26.20" height="73.30" fill="#000" stroke="#000" stroke-width="1.2"/>
<line x1="235.1" y1="449.0" x2="235.1" y2="452" stroke="#000" stroke-width="1.3"/>
<line x1="274" y1="449.0" x2="274" y2="452" stroke="#000" stroke-width="1.3"/>
<path d="M238.5 345.4 V337.0 H273.2 V345.4" stroke="#333" stroke-width="1.3" fill="none" stroke-linejoin="round"/>
<text x="253.75" y="336.36" font-size="9.5" font-weight="bold" fill="#444" letter-spacing="0">*</text>
<text x="234.5" y="465.3" font-size="7.3" text-anchor="middle" font-weight="normal" fill="#1e1e1e" stroke="#1e1e1e" stroke-width="0" >Starvation</text>
<text x="234.5" y="473.85" font-size="7.3" text-anchor="middle" font-weight="normal" fill="#1e1e1e" stroke="#1e1e1e" stroke-width="0" >(EBSS)+</text>
<text x="234.5" y="482.40000000000003" font-size="7.3" text-anchor="middle" font-weight="normal" fill="#1e1e1e" stroke="#1e1e1e" stroke-width="0" >Bafilomycin</text>
<text x="234.5" y="490.95" font-size="7.3" text-anchor="middle" font-weight="normal" fill="#1e1e1e" stroke="#1e1e1e" stroke-width="0" >A1</text>
<text x="279.5" y="470.2" font-size="7.3" text-anchor="middle" font-weight="normal" fill="#1e1e1e" stroke="#1e1e1e" stroke-width="0" >Starvation</text>
<text x="279.5" y="478.75" font-size="7.3" text-anchor="middle" font-weight="normal" fill="#1e1e1e" stroke="#1e1e1e" stroke-width="0" >(EBSS)</text>
<text x="184.8" y="373.8" font-size="10.1" text-anchor="middle" font-weight="normal" fill="#1e1e1e" stroke="#1e1e1e" stroke-width="0.0" transform="rotate(-90 184.8 373.8)" >% of cells with</text>
<text x="195.2" y="381.5" font-size="9.5" text-anchor="middle" font-weight="normal" fill="#1e1e1e" stroke="#1e1e1e" stroke-width="0.0" transform="rotate(-90 195.2 381.5)" >High autophagic flux</text>
<text x="320.0" y="313.8" font-size="10" text-anchor="start" font-weight="bold" fill="#111" stroke="#111" stroke-width="0" >f</text>
<text x="331.8" y="408.3" font-size="9.6" text-anchor="middle" font-weight="normal" fill="#1e1e1e" stroke="#1e1e1e" stroke-width="0.22" transform="rotate(-90 331.8 408.3)" >mCherry</text>
<path d="M341.7 466.5 V369" stroke="#444" stroke-width="1.3" fill="none" />
<path d="M338.8 370.4 L341.7 364.6 L344.6 370.4 Z" fill="#111" />
<path d="M341.7 465.9 H541" stroke="#444" stroke-width="1.3" fill="none" />
<path d="M539.9 463.0 L545.6 465.9 L539.9 468.8 Z" fill="#111" />
<text x="449.7" y="485.2" font-size="9.6" text-anchor="middle" font-weight="normal" fill="#1e1e1e" stroke="#1e1e1e" stroke-width="0.22" >GFP</text>
<rect x="353.6" y="351.7" width="96.70" height="101.90" fill="none" stroke="#999" stroke-width="1.0"/>
<rect x="454.5" y="352.1" width="95.20" height="101.70" fill="none" stroke="#999" stroke-width="1.0"/>
<text x="399.2" y="343.2" font-size="9.6" text-anchor="middle" font-weight="normal" fill="#1e1e1e" stroke="#1e1e1e" stroke-width="0.22" >Control</text>
<text x="500.3" y="343.5" font-size="9.4" text-anchor="middle" font-weight="normal" fill="#1e1e1e" stroke="#1e1e1e" stroke-width="0.22" >WAY-3x&#160; (72h)</text>
<text x="368.0" y="370.5" font-size="8.2" text-anchor="start" font-weight="normal" fill="#1e1e1e" stroke="#1e1e1e" stroke-width="0.22" >4.44</text>
<text x="470.1" y="370.2" font-size="8.2" text-anchor="start" font-weight="normal" fill="#1e1e1e" stroke="#1e1e1e" stroke-width="0.22" >23.5</text>
<g fill="#2a3cff" opacity="0.85"><rect x="412.2" y="391.2" width="0.9" height="0.9"/><rect x="431.4" y="369.6" width="0.9" height="0.9"/><rect x="410.3" y="391.3" width="0.9" height="0.9"/><rect x="429.6" y="377.5" width="0.9" height="0.9"/><rect x="409.0" y="387.8" width="0.9" height="0.9"/><rect x="430.6" y="374.1" width="0.9" height="0.9"/><rect x="439.4" y="367.8" width="0.9" height="0.9"/><rect x="421.5" y="379.9" width="0.9" height="0.9"/><rect x="446.7" y="355.9" width="0.9" height="0.9"/><rect x="413.4" y="384.2" width="0.9" height="0.9"/><rect x="424.2" y="378.9" width="0.9" height="0.9"/><rect x="419.6" y="382.5" width="0.9" height="0.9"/><rect x="426.9" y="378.5" width="0.9" height="0.9"/><rect x="433.7" y="370.1" width="0.9" height="0.9"/><rect x="407.5" y="396.9" width="0.9" height="0.9"/><rect x="409.3" y="391.9" width="0.9" height="0.9"/><rect x="409.1" y="392.7" width="0.9" height="0.9"/><rect x="416.1" y="386.9" width="0.9" height="0.9"/><rect x="428.4" y="369.3" width="0.9" height="0.9"/><rect x="421.6" y="383.4" width="0.9" height="0.9"/><rect x="422.8" y="381.1" width="0.9" height="0.9"/><rect x="422.0" y="376.5" width="0.9" height="0.9"/><rect x="426.7" y="372.8" width="0.9" height="0.9"/><rect x="439.7" y="361.7" width="0.9" height="0.9"/><rect x="429.5" y="373.4" width="0.9" height="0.9"/><rect x="430.8" y="369.8" width="0.9" height="0.9"/><rect x="432.2" y="370.3" width="0.9" height="0.9"/><rect x="436.1" y="369.5" width="0.9" height="0.9"/><rect x="422.8" y="376.7" width="0.9" height="0.9"/><rect x="431.1" y="373.6" width="0.9" height="0.9"/><rect x="437.8" y="364.0" width="0.9" height="0.9"/><rect x="429.2" y="375.6" width="0.9" height="0.9"/><rect x="426.1" y="377.4" width="0.9" height="0.9"/><rect x="423.6" y="376.7" width="0.9" height="0.9"/><rect x="412.7" y="387.8" width="0.9" height="0.9"/><rect x="431.5" y="377.3" width="0.9" height="0.9"/><rect x="434.2" y="372.9" width="0.9" height="0.9"/><rect x="431.7" y="374.0" width="0.9" height="0.9"/><rect x="426.2" y="379.4" width="0.9" height="0.9"/><rect x="439.1" y="363.0" width="0.9" height="0.9"/><rect x="420.2" y="389.7" width="0.9" height="0.9"/><rect x="427.2" y="379.3" width="0.9" height="0.9"/><rect x="429.0" y="369.4" width="0.9" height="0.9"/><rect x="426.1" y="379.4" width="0.9" height="0.9"/><rect x="422.5" y="376.6" width="0.9" height="0.9"/><rect x="422.7" y="381.3" width="0.9" height="0.9"/><rect x="434.9" y="371.0" width="0.9" height="0.9"/><rect x="426.2" y="381.7" width="0.9" height="0.9"/><rect x="417.4" y="387.9" width="0.9" height="0.9"/><rect x="432.9" y="369.0" width="0.9" height="0.9"/><rect x="404.4" y="393.7" width="0.9" height="0.9"/><rect x="426.3" y="378.5" width="0.9" height="0.9"/><rect x="435.7" y="363.6" width="0.9" height="0.9"/><rect x="424.3" y="380.8" width="0.9" height="0.9"/><rect x="416.9" y="376.1" width="0.9" height="0.9"/><rect x="435.1" y="377.0" width="0.9" height="0.9"/><rect x="430.7" y="368.6" width="0.9" height="0.9"/><rect x="419.5" y="383.6" width="0.9" height="0.9"/><rect x="447.7" y="358.5" width="0.9" height="0.9"/><rect x="427.1" y="381.6" width="0.9" height="0.9"/><rect x="425.8" y="384.0" width="0.9" height="0.9"/><rect x="415.6" y="384.7" width="0.9" height="0.9"/><rect x="432.5" y="375.9" width="0.9" height="0.9"/><rect x="429.7" y="374.3" width="0.9" height="0.9"/><rect x="404.5" y="394.4" width="0.9" height="0.9"/><rect x="416.2" y="383.9" width="0.9" height="0.9"/><rect x="427.9" y="373.6" width="0.9" height="0.9"/><rect x="430.6" y="372.6" width="0.9" height="0.9"/><rect x="420.1" y="382.7" width="0.9" height="0.9"/><rect x="428.7" y="377.4" width="0.9" height="0.9"/><rect x="418.0" y="383.3" width="0.9" height="0.9"/><rect x="413.2" y="395.0" width="0.9" height="0.9"/><rect x="436.3" y="366.1" width="0.9" height="0.9"/><rect x="416.1" y="381.3" width="0.9" height="0.9"/><rect x="425.0" y="378.4" width="0.9" height="0.9"/><rect x="444.0" y="360.5" width="0.9" height="0.9"/><rect x="411.0" y="381.5" width="0.9" height="0.9"/><rect x="436.7" y="367.3" width="0.9" height="0.9"/><rect x="408.2" y="394.3" width="0.9" height="0.9"/><rect x="414.5" y="401.0" width="0.9" height="0.9"/><rect x="434.7" y="370.6" width="0.9" height="0.9"/><rect x="417.2" y="376.7" width="0.9" height="0.9"/><rect x="418.8" y="377.5" width="0.9" height="0.9"/><rect x="424.5" y="369.8" width="0.9" height="0.9"/><rect x="416.8" y="390.1" width="0.9" height="0.9"/><rect x="436.2" y="362.4" width="0.9" height="0.9"/><rect x="410.2" y="395.0" width="0.9" height="0.9"/><rect x="429.1" y="369.9" width="0.9" height="0.9"/><rect x="415.1" y="384.3" width="0.9" height="0.9"/><rect x="410.5" y="388.8" width="0.9" height="0.9"/><rect x="436.1" y="369.7" width="0.9" height="0.9"/><rect x="442.2" y="360.9" width="0.9" height="0.9"/><rect x="419.8" y="378.7" width="0.9" height="0.9"/><rect x="419.3" y="377.9" width="0.9" height="0.9"/><rect x="407.6" y="396.8" width="0.9" height="0.9"/><rect x="438.2" y="368.3" width="0.9" height="0.9"/><rect x="436.0" y="368.1" width="0.9" height="0.9"/><rect x="416.4" y="386.1" width="0.9" height="0.9"/><rect x="417.3" y="380.6" width="0.9" height="0.9"/><rect x="404.2" y="391.6" width="0.9" height="0.9"/><rect x="423.2" y="379.9" width="0.9" height="0.9"/><rect x="421.3" y="386.6" width="0.9" height="0.9"/><rect x="425.8" y="379.1" width="0.9" height="0.9"/><rect x="432.9" y="366.9" width="0.9" height="0.9"/><rect x="405.9" y="398.7" width="0.9" height="0.9"/><rect x="419.0" y="388.3" width="0.9" height="0.9"/><rect x="428.1" y="378.5" width="0.9" height="0.9"/><rect x="426.2" y="368.4" width="0.9" height="0.9"/><rect x="428.5" y="371.7" width="0.9" height="0.9"/><rect x="415.0" y="385.4" width="0.9" height="0.9"/><rect x="431.9" y="374.4" width="0.9" height="0.9"/><rect x="429.3" y="367.1" width="0.9" height="0.9"/><rect x="412.9" y="380.0" width="0.9" height="0.9"/><rect x="423.2" y="381.6" width="0.9" height="0.9"/><rect x="416.3" y="386.8" width="0.9" height="0.9"/><rect x="427.1" y="379.5" width="0.9" height="0.9"/><rect x="413.7" y="385.2" width="0.9" height="0.9"/><rect x="419.2" y="389.9" width="0.9" height="0.9"/><rect x="433.0" y="369.5" width="0.9" height="0.9"/><rect x="425.3" y="377.7" width="0.9" height="0.9"/><rect x="424.5" y="377.3" width="0.9" height="0.9"/><rect x="417.4" y="379.9" width="0.9" height="0.9"/><rect x="420.1" y="388.6" width="0.9" height="0.9"/><rect x="428.2" y="374.8" width="0.9" height="0.9"/><rect x="421.1" y="381.5" width="0.9" height="0.9"/><rect x="425.1" y="375.0" width="0.9" height="0.9"/><rect x="425.3" y="378.2" width="0.9" height="0.9"/><rect x="414.4" y="384.6" width="0.9" height="0.9"/><rect x="411.5" y="386.3" width="0.9" height="0.9"/><rect x="426.8" y="366.7" width="0.9" height="0.9"/><rect x="419.3" y="380.6" width="0.9" height="0.9"/><rect x="417.3" y="385.2" width="0.9" height="0.9"/><rect x="433.8" y="369.6" width="0.9" height="0.9"/><rect x="420.5" y="379.5" width="0.9" height="0.9"/><rect x="423.5" y="382.5" width="0.9" height="0.9"/><rect x="417.1" y="380.7" width="0.9" height="0.9"/><rect x="408.9" y="388.6" width="0.9" height="0.9"/><rect x="412.0" y="394.2" width="0.9" height="0.9"/><rect x="425.9" y="375.8" width="0.9" height="0.9"/><rect x="435.5" y="365.1" width="0.9" height="0.9"/><rect x="431.6" y="374.4" width="0.9" height="0.9"/><rect x="405.4" y="390.2" width="0.9" height="0.9"/><rect x="416.0" y="389.6" width="0.9" height="0.9"/><rect x="432.9" y="365.4" width="0.9" height="0.9"/><rect x="432.1" y="369.3" width="0.9" height="0.9"/><rect x="418.2" y="381.9" width="0.9" height="0.9"/><rect x="416.4" y="378.7" width="0.9" height="0.9"/><rect x="411.2" y="386.0" width="0.9" height="0.9"/><rect x="431.7" y="379.4" width="0.9" height="0.9"/><rect x="448.1" y="354.4" width="0.9" height="0.9"/><rect x="406.0" y="394.1" width="0.9" height="0.9"/><rect x="418.0" y="391.9" width="0.9" height="0.9"/><rect x="427.0" y="372.9" width="0.9" height="0.9"/><rect x="432.9" y="372.2" width="0.9" height="0.9"/><rect x="406.7" y="393.0" width="0.9" height="0.9"/><rect x="420.8" y="381.7" width="0.9" height="0.9"/><rect x="423.6" y="377.6" width="0.9" height="0.9"/><rect x="423.7" y="376.6" width="0.9" height="0.9"/><rect x="417.5" y="390.6" width="0.9" height="0.9"/><rect x="427.2" y="377.2" width="0.9" height="0.9"/><rect x="407.6" y="393.4" width="0.9" height="0.9"/><rect x="428.2" y="369.5" width="0.9" height="0.9"/><rect x="432.6" y="368.9" width="0.9" height="0.9"/><rect x="426.5" y="375.6" width="0.9" height="0.9"/><rect x="427.4" y="380.0" width="0.9" height="0.9"/><rect x="422.2" y="386.3" width="0.9" height="0.9"/><rect x="413.8" y="384.6" width="0.9" height="0.9"/><rect x="427.6" y="371.0" width="0.9" height="0.9"/><rect x="421.3" y="384.7" width="0.9" height="0.9"/><rect x="431.0" y="365.1" width="0.9" height="0.9"/><rect x="431.4" y="378.8" width="0.9" height="0.9"/><rect x="433.8" y="368.3" width="0.9" height="0.9"/><rect x="416.8" y="384.3" width="0.9" height="0.9"/><rect x="411.6" y="389.3" width="0.9" height="0.9"/><rect x="421.0" y="380.9" width="0.9" height="0.9"/><rect x="433.7" y="368.4" width="0.9" height="0.9"/><rect x="411.3" y="394.7" width="0.9" height="0.9"/><rect x="412.0" y="388.2" width="0.9" height="0.9"/><rect x="421.1" y="380.0" width="0.9" height="0.9"/><rect x="413.1" y="388.0" width="0.9" height="0.9"/><rect x="442.4" y="358.7" width="0.9" height="0.9"/><rect x="423.9" y="383.0" width="0.9" height="0.9"/><rect x="431.5" y="374.4" width="0.9" height="0.9"/><rect x="427.3" y="367.8" width="0.9" height="0.9"/><rect x="415.1" y="387.5" width="0.9" height="0.9"/><rect x="430.2" y="377.7" width="0.9" height="0.9"/><rect x="427.0" y="374.8" width="0.9" height="0.9"/><rect x="423.0" y="378.7" width="0.9" height="0.9"/><rect x="426.6" y="378.7" width="0.9" height="0.9"/><rect x="418.2" y="380.9" width="0.9" height="0.9"/><rect x="417.1" y="389.4" width="0.9" height="0.9"/><rect x="437.0" y="370.0" width="0.9" height="0.9"/><rect x="432.7" y="373.5" width="0.9" height="0.9"/><rect x="424.3" y="380.9" width="0.9" height="0.9"/><rect x="412.7" y="388.5" width="0.9" height="0.9"/><rect x="417.5" y="387.5" width="0.9" height="0.9"/><rect x="417.3" y="384.5" width="0.9" height="0.9"/><rect x="429.4" y="378.7" width="0.9" height="0.9"/><rect x="413.7" y="384.7" width="0.9" height="0.9"/><rect x="428.6" y="369.9" width="0.9" height="0.9"/><rect x="426.2" y="374.3" width="0.9" height="0.9"/><rect x="418.5" y="376.7" width="0.9" height="0.9"/><rect x="428.8" y="372.1" width="0.9" height="0.9"/><rect x="418.5" y="391.8" width="0.9" height="0.9"/><rect x="436.5" y="380.3" width="0.9" height="0.9"/><rect x="426.2" y="375.1" width="0.9" height="0.9"/><rect x="427.1" y="381.8" width="0.9" height="0.9"/><rect x="423.6" y="380.7" width="0.9" height="0.9"/><rect x="426.1" y="373.0" width="0.9" height="0.9"/><rect x="423.2" y="377.3" width="0.9" height="0.9"/><rect x="412.9" y="392.4" width="0.9" height="0.9"/><rect x="429.4" y="373.7" width="0.9" height="0.9"/><rect x="410.6" y="383.5" width="0.9" height="0.9"/><rect x="427.4" y="375.0" width="0.9" height="0.9"/><rect x="407.0" y="394.4" width="0.9" height="0.9"/><rect x="408.6" y="393.1" width="0.9" height="0.9"/><rect x="425.0" y="378.9" width="0.9" height="0.9"/><rect x="425.4" y="377.9" width="0.9" height="0.9"/><rect x="411.5" y="388.9" width="0.9" height="0.9"/><rect x="417.7" y="383.6" width="0.9" height="0.9"/><rect x="426.7" y="378.3" width="0.9" height="0.9"/><rect x="433.5" y="359.6" width="0.9" height="0.9"/><rect x="426.4" y="375.5" width="0.9" height="0.9"/><rect x="446.3" y="361.0" width="0.9" height="0.9"/><rect x="408.2" y="395.1" width="0.9" height="0.9"/><rect x="420.0" y="386.2" width="0.9" height="0.9"/><rect x="412.9" y="388.7" width="0.9" height="0.9"/><rect x="421.6" y="380.5" width="0.9" height="0.9"/><rect x="414.0" y="381.0" width="0.9" height="0.9"/><rect x="429.3" y="377.4" width="0.9" height="0.9"/><rect x="420.4" y="378.0" width="0.9" height="0.9"/><rect x="426.0" y="378.8" width="0.9" height="0.9"/><rect x="421.3" y="381.0" width="0.9" height="0.9"/><rect x="434.1" y="364.6" width="0.9" height="0.9"/><rect x="414.1" y="380.6" width="0.9" height="0.9"/><rect x="415.0" y="384.3" width="0.9" height="0.9"/><rect x="412.6" y="386.7" width="0.9" height="0.9"/><rect x="439.6" y="363.0" width="0.9" height="0.9"/><rect x="426.2" y="385.0" width="0.9" height="0.9"/><rect x="419.1" y="376.5" width="0.9" height="0.9"/><rect x="425.0" y="374.0" width="0.9" height="0.9"/><rect x="436.0" y="362.3" width="0.9" height="0.9"/><rect x="414.4" y="381.4" width="0.9" height="0.9"/><rect x="422.0" y="376.6" width="0.9" height="0.9"/><rect x="421.7" y="379.3" width="0.9" height="0.9"/><rect x="419.0" y="386.9" width="0.9" height="0.9"/><rect x="431.9" y="371.3" width="0.9" height="0.9"/><rect x="412.4" y="385.4" width="0.9" height="0.9"/><rect x="430.2" y="381.9" width="0.9" height="0.9"/><rect x="417.2" y="382.0" width="0.9" height="0.9"/><rect x="414.3" y="383.5" width="0.9" height="0.9"/><rect x="413.4" y="387.8" width="0.9" height="0.9"/><rect x="436.5" y="366.7" width="0.9" height="0.9"/><rect x="415.1" y="380.8" width="0.9" height="0.9"/><rect x="425.0" y="377.5" width="0.9" height="0.9"/><rect x="409.3" y="388.3" width="0.9" height="0.9"/><rect x="424.6" y="381.9" width="0.9" height="0.9"/><rect x="429.3" y="374.3" width="0.9" height="0.9"/><rect x="420.6" y="383.0" width="0.9" height="0.9"/><rect x="427.1" y="384.0" width="0.9" height="0.9"/><rect x="411.6" y="388.9" width="0.9" height="0.9"/><rect x="434.4" y="367.6" width="0.9" height="0.9"/><rect x="436.3" y="366.7" width="0.9" height="0.9"/><rect x="423.7" y="377.4" width="0.9" height="0.9"/><rect x="408.1" y="389.9" width="0.9" height="0.9"/><rect x="445.1" y="361.0" width="0.9" height="0.9"/><rect x="430.5" y="376.0" width="0.9" height="0.9"/><rect x="430.3" y="376.5" width="0.9" height="0.9"/><rect x="420.1" y="381.4" width="0.9" height="0.9"/><rect x="431.6" y="370.0" width="0.9" height="0.9"/><rect x="410.0" y="391.0" width="0.9" height="0.9"/><rect x="419.0" y="385.6" width="0.9" height="0.9"/><rect x="414.2" y="383.8" width="0.9" height="0.9"/><rect x="422.9" y="385.6" width="0.9" height="0.9"/><rect x="422.9" y="380.3" width="0.9" height="0.9"/><rect x="423.7" y="380.0" width="0.9" height="0.9"/><rect x="434.4" y="374.0" width="0.9" height="0.9"/><rect x="410.1" y="397.0" width="0.9" height="0.9"/><rect x="422.4" y="378.9" width="0.9" height="0.9"/><rect x="445.3" y="357.7" width="0.9" height="0.9"/><rect x="443.2" y="364.1" width="0.9" height="0.9"/><rect x="414.2" y="389.7" width="0.9" height="0.9"/><rect x="429.7" y="372.7" width="0.9" height="0.9"/><rect x="400.4" y="399.6" width="0.9" height="0.9"/><rect x="419.1" y="379.0" width="0.9" height="0.9"/><rect x="439.7" y="362.7" width="0.9" height="0.9"/><rect x="418.7" y="382.4" width="0.9" height="0.9"/><rect x="414.1" y="384.9" width="0.9" height="0.9"/><rect x="424.5" y="379.3" width="0.9" height="0.9"/><rect x="418.0" y="383.9" width="0.9" height="0.9"/><rect x="410.9" y="393.0" width="0.9" height="0.9"/><rect x="416.3" y="386.6" width="0.9" height="0.9"/><rect x="413.5" y="386.6" width="0.9" height="0.9"/><rect x="422.7" y="375.1" width="0.9" height="0.9"/><rect x="446.2" y="357.3" width="0.9" height="0.9"/><rect x="420.9" y="378.7" width="0.9" height="0.9"/><rect x="440.7" y="368.0" width="0.9" height="0.9"/><rect x="423.2" y="374.0" width="0.9" height="0.9"/><rect x="419.4" y="385.3" width="0.9" height="0.9"/><rect x="415.9" y="381.7" width="0.9" height="0.9"/></g>
<g fill="#3040ff" opacity="0.8"><rect x="392.5" y="396.3" width="0.9" height="0.9"/><rect x="399.8" y="390.0" width="0.9" height="0.9"/><rect x="409.3" y="400.0" width="0.9" height="0.9"/><rect x="408.9" y="379.2" width="0.9" height="0.9"/><rect x="403.7" y="390.4" width="0.9" height="0.9"/><rect x="403.6" y="395.8" width="0.9" height="0.9"/><rect x="398.7" y="392.9" width="0.9" height="0.9"/><rect x="399.0" y="393.8" width="0.9" height="0.9"/><rect x="411.1" y="387.2" width="0.9" height="0.9"/><rect x="392.5" y="398.1" width="0.9" height="0.9"/><rect x="399.1" y="398.8" width="0.9" height="0.9"/><rect x="405.3" y="393.3" width="0.9" height="0.9"/><rect x="395.9" y="386.8" width="0.9" height="0.9"/><rect x="404.7" y="390.2" width="0.9" height="0.9"/><rect x="400.9" y="385.4" width="0.9" height="0.9"/><rect x="400.1" y="389.6" width="0.9" height="0.9"/><rect x="398.5" y="396.8" width="0.9" height="0.9"/><rect x="401.1" y="387.5" width="0.9" height="0.9"/><rect x="384.8" y="394.3" width="0.9" height="0.9"/><rect x="401.3" y="398.4" width="0.9" height="0.9"/><rect x="395.0" y="385.8" width="0.9" height="0.9"/><rect x="397.7" y="398.0" width="0.9" height="0.9"/><rect x="414.4" y="386.2" width="0.9" height="0.9"/><rect x="404.2" y="390.6" width="0.9" height="0.9"/><rect x="394.1" y="396.5" width="0.9" height="0.9"/><rect x="397.4" y="391.6" width="0.9" height="0.9"/><rect x="400.8" y="390.5" width="0.9" height="0.9"/><rect x="407.4" y="394.3" width="0.9" height="0.9"/><rect x="407.0" y="389.1" width="0.9" height="0.9"/><rect x="395.9" y="388.9" width="0.9" height="0.9"/><rect x="402.3" y="394.2" width="0.9" height="0.9"/><rect x="399.1" y="401.2" width="0.9" height="0.9"/><rect x="400.6" y="394.9" width="0.9" height="0.9"/><rect x="396.1" y="390.2" width="0.9" height="0.9"/><rect x="410.3" y="377.2" width="0.9" height="0.9"/><rect x="405.3" y="385.3" width="0.9" height="0.9"/><rect x="400.9" y="388.1" width="0.9" height="0.9"/><rect x="401.6" y="397.0" width="0.9" height="0.9"/><rect x="410.5" y="378.8" width="0.9" height="0.9"/><rect x="404.2" y="394.7" width="0.9" height="0.9"/><rect x="399.8" y="397.5" width="0.9" height="0.9"/><rect x="398.6" y="398.1" width="0.9" height="0.9"/><rect x="407.4" y="393.1" width="0.9" height="0.9"/><rect x="400.3" y="386.5" width="0.9" height="0.9"/><rect x="402.3" y="385.1" width="0.9" height="0.9"/><rect x="410.0" y="392.2" width="0.9" height="0.9"/><rect x="403.4" y="387.1" width="0.9" height="0.9"/><rect x="408.9" y="385.9" width="0.9" height="0.9"/><rect x="393.3" y="397.8" width="0.9" height="0.9"/><rect x="408.9" y="383.3" width="0.9" height="0.9"/><rect x="401.3" y="390.3" width="0.9" height="0.9"/><rect x="390.3" y="399.8" width="0.9" height="0.9"/><rect x="404.1" y="390.6" width="0.9" height="0.9"/><rect x="394.6" y="386.8" width="0.9" height="0.9"/><rect x="410.6" y="387.4" width="0.9" height="0.9"/><rect x="411.0" y="390.1" width="0.9" height="0.9"/><rect x="397.3" y="392.7" width="0.9" height="0.9"/><rect x="407.9" y="395.1" width="0.9" height="0.9"/><rect x="391.1" y="400.6" width="0.9" height="0.9"/><rect x="398.9" y="397.6" width="0.9" height="0.9"/><rect x="409.2" y="383.1" width="0.9" height="0.9"/><rect x="394.4" y="399.0" width="0.9" height="0.9"/><rect x="395.6" y="389.1" width="0.9" height="0.9"/><rect x="405.2" y="385.6" width="0.9" height="0.9"/><rect x="401.8" y="384.4" width="0.9" height="0.9"/><rect x="403.9" y="381.8" width="0.9" height="0.9"/><rect x="402.6" y="380.9" width="0.9" height="0.9"/><rect x="408.5" y="383.3" width="0.9" height="0.9"/><rect x="391.8" y="399.9" width="0.9" height="0.9"/><rect x="400.7" y="387.3" width="0.9" height="0.9"/><rect x="399.4" y="395.5" width="0.9" height="0.9"/><rect x="392.1" y="384.0" width="0.9" height="0.9"/><rect x="400.2" y="395.6" width="0.9" height="0.9"/><rect x="406.0" y="393.3" width="0.9" height="0.9"/><rect x="404.5" y="403.2" width="0.9" height="0.9"/><rect x="407.0" y="388.5" width="0.9" height="0.9"/><rect x="410.4" y="388.8" width="0.9" height="0.9"/><rect x="400.4" y="389.6" width="0.9" height="0.9"/><rect x="408.6" y="387.6" width="0.9" height="0.9"/><rect x="387.5" y="399.2" width="0.9" height="0.9"/><rect x="404.5" y="389.7" width="0.9" height="0.9"/><rect x="404.9" y="392.3" width="0.9" height="0.9"/><rect x="406.7" y="395.8" width="0.9" height="0.9"/><rect x="397.0" y="394.1" width="0.9" height="0.9"/><rect x="405.4" y="392.4" width="0.9" height="0.9"/><rect x="410.2" y="392.0" width="0.9" height="0.9"/><rect x="401.9" y="398.0" width="0.9" height="0.9"/><rect x="401.3" y="386.4" width="0.9" height="0.9"/><rect x="406.4" y="398.8" width="0.9" height="0.9"/><rect x="404.8" y="386.3" width="0.9" height="0.9"/><rect x="385.6" y="403.1" width="0.9" height="0.9"/><rect x="397.6" y="396.1" width="0.9" height="0.9"/><rect x="417.0" y="381.4" width="0.9" height="0.9"/><rect x="400.7" y="387.6" width="0.9" height="0.9"/><rect x="394.0" y="397.9" width="0.9" height="0.9"/><rect x="407.1" y="403.3" width="0.9" height="0.9"/><rect x="397.5" y="392.4" width="0.9" height="0.9"/><rect x="408.3" y="386.0" width="0.9" height="0.9"/><rect x="397.9" y="402.5" width="0.9" height="0.9"/><rect x="396.0" y="389.9" width="0.9" height="0.9"/><rect x="404.7" y="391.6" width="0.9" height="0.9"/><rect x="401.5" y="395.9" width="0.9" height="0.9"/><rect x="403.8" y="384.9" width="0.9" height="0.9"/><rect x="383.0" y="396.4" width="0.9" height="0.9"/><rect x="404.1" y="396.3" width="0.9" height="0.9"/><rect x="411.2" y="390.5" width="0.9" height="0.9"/><rect x="412.3" y="381.8" width="0.9" height="0.9"/><rect x="403.4" y="381.7" width="0.9" height="0.9"/><rect x="406.6" y="389.3" width="0.9" height="0.9"/><rect x="399.7" y="391.2" width="0.9" height="0.9"/><rect x="395.4" y="398.6" width="0.9" height="0.9"/><rect x="407.9" y="383.9" width="0.9" height="0.9"/><rect x="402.8" y="387.1" width="0.9" height="0.9"/><rect x="400.2" y="387.7" width="0.9" height="0.9"/><rect x="403.1" y="389.3" width="0.9" height="0.9"/><rect x="401.7" y="388.5" width="0.9" height="0.9"/><rect x="393.8" y="397.5" width="0.9" height="0.9"/><rect x="411.9" y="390.9" width="0.9" height="0.9"/><rect x="401.8" y="396.1" width="0.9" height="0.9"/><rect x="407.0" y="389.0" width="0.9" height="0.9"/><rect x="393.4" y="401.5" width="0.9" height="0.9"/><rect x="399.1" y="400.8" width="0.9" height="0.9"/><rect x="407.8" y="389.4" width="0.9" height="0.9"/><rect x="388.5" y="407.8" width="0.9" height="0.9"/><rect x="402.0" y="384.4" width="0.9" height="0.9"/><rect x="407.3" y="386.9" width="0.9" height="0.9"/><rect x="398.5" y="390.9" width="0.9" height="0.9"/><rect x="394.4" y="396.3" width="0.9" height="0.9"/><rect x="420.0" y="375.6" width="0.9" height="0.9"/><rect x="400.9" y="389.0" width="0.9" height="0.9"/></g>
<g fill="#3a4aff" opacity="0.75"><rect x="392.2" y="415.2" width="0.9" height="0.9"/><rect x="389.2" y="422.4" width="0.9" height="0.9"/><rect x="396.0" y="422.3" width="0.9" height="0.9"/><rect x="386.3" y="422.6" width="0.9" height="0.9"/><rect x="398.7" y="421.3" width="0.9" height="0.9"/><rect x="397.9" y="413.6" width="0.9" height="0.9"/><rect x="412.3" y="415.8" width="0.9" height="0.9"/><rect x="397.4" y="413.6" width="0.9" height="0.9"/><rect x="401.2" y="416.1" width="0.9" height="0.9"/><rect x="402.1" y="419.7" width="0.9" height="0.9"/><rect x="391.4" y="410.9" width="0.9" height="0.9"/><rect x="403.8" y="422.6" width="0.9" height="0.9"/><rect x="406.7" y="412.3" width="0.9" height="0.9"/><rect x="405.7" y="419.9" width="0.9" height="0.9"/><rect x="402.1" y="420.1" width="0.9" height="0.9"/><rect x="395.4" y="419.1" width="0.9" height="0.9"/><rect x="409.2" y="415.5" width="0.9" height="0.9"/><rect x="383.2" y="417.5" width="0.9" height="0.9"/><rect x="401.2" y="408.8" width="0.9" height="0.9"/><rect x="391.6" y="420.9" width="0.9" height="0.9"/><rect x="397.3" y="418.5" width="0.9" height="0.9"/><rect x="385.1" y="422.5" width="0.9" height="0.9"/><rect x="418.3" y="417.0" width="0.9" height="0.9"/><rect x="390.9" y="412.2" width="0.9" height="0.9"/><rect x="408.8" y="418.5" width="0.9" height="0.9"/><rect x="390.3" y="424.1" width="0.9" height="0.9"/><rect x="407.4" y="421.0" width="0.9" height="0.9"/><rect x="379.6" y="417.5" width="0.9" height="0.9"/><rect x="405.9" y="411.9" width="0.9" height="0.9"/><rect x="409.2" y="425.2" width="0.9" height="0.9"/><rect x="410.4" y="414.4" width="0.9" height="0.9"/><rect x="391.2" y="422.7" width="0.9" height="0.9"/><rect x="409.9" y="424.1" width="0.9" height="0.9"/><rect x="412.2" y="417.5" width="0.9" height="0.9"/><rect x="394.5" y="408.7" width="0.9" height="0.9"/><rect x="407.6" y="429.4" width="0.9" height="0.9"/><rect x="393.9" y="415.6" width="0.9" height="0.9"/><rect x="406.1" y="419.9" width="0.9" height="0.9"/><rect x="383.9" y="414.4" width="0.9" height="0.9"/><rect x="386.9" y="428.1" width="0.9" height="0.9"/><rect x="391.1" y="422.3" width="0.9" height="0.9"/><rect x="420.1" y="427.5" width="0.9" height="0.9"/><rect x="414.7" y="426.1" width="0.9" height="0.9"/><rect x="385.4" y="416.3" width="0.9" height="0.9"/><rect x="391.0" y="416.5" width="0.9" height="0.9"/><rect x="427.8" y="409.6" width="0.9" height="0.9"/><rect x="405.1" y="411.8" width="0.9" height="0.9"/><rect x="413.7" y="424.5" width="0.9" height="0.9"/><rect x="393.4" y="428.3" width="0.9" height="0.9"/><rect x="399.8" y="424.5" width="0.9" height="0.9"/><rect x="402.4" y="415.2" width="0.9" height="0.9"/><rect x="394.8" y="417.4" width="0.9" height="0.9"/><rect x="405.8" y="418.6" width="0.9" height="0.9"/><rect x="425.0" y="417.0" width="0.9" height="0.9"/><rect x="393.9" y="414.4" width="0.9" height="0.9"/><rect x="390.5" y="410.8" width="0.9" height="0.9"/><rect x="388.2" y="422.5" width="0.9" height="0.9"/><rect x="399.7" y="417.1" width="0.9" height="0.9"/><rect x="402.9" y="423.3" width="0.9" height="0.9"/><rect x="405.8" y="421.9" width="0.9" height="0.9"/><rect x="392.8" y="416.7" width="0.9" height="0.9"/><rect x="390.5" y="417.5" width="0.9" height="0.9"/><rect x="390.0" y="416.1" width="0.9" height="0.9"/><rect x="397.1" y="416.9" width="0.9" height="0.9"/><rect x="396.1" y="415.5" width="0.9" height="0.9"/><rect x="413.4" y="416.3" width="0.9" height="0.9"/><rect x="387.9" y="419.0" width="0.9" height="0.9"/><rect x="387.0" y="412.6" width="0.9" height="0.9"/><rect x="399.9" y="409.7" width="0.9" height="0.9"/><rect x="363.6" y="419.4" width="0.9" height="0.9"/><rect x="410.4" y="409.6" width="0.9" height="0.9"/><rect x="389.1" y="420.9" width="0.9" height="0.9"/><rect x="377.1" y="413.6" width="0.9" height="0.9"/><rect x="385.8" y="417.0" width="0.9" height="0.9"/><rect x="377.3" y="422.5" width="0.9" height="0.9"/><rect x="397.4" y="419.5" width="0.9" height="0.9"/><rect x="395.4" y="407.4" width="0.9" height="0.9"/><rect x="397.3" y="411.3" width="0.9" height="0.9"/><rect x="399.1" y="413.7" width="0.9" height="0.9"/><rect x="395.5" y="416.9" width="0.9" height="0.9"/><rect x="407.5" y="421.8" width="0.9" height="0.9"/><rect x="387.9" y="417.9" width="0.9" height="0.9"/><rect x="415.1" y="420.5" width="0.9" height="0.9"/><rect x="391.0" y="417.4" width="0.9" height="0.9"/><rect x="395.2" y="422.7" width="0.9" height="0.9"/><rect x="399.4" y="419.9" width="0.9" height="0.9"/><rect x="423.3" y="411.1" width="0.9" height="0.9"/><rect x="387.8" y="409.3" width="0.9" height="0.9"/><rect x="381.5" y="422.3" width="0.9" height="0.9"/><rect x="402.2" y="426.2" width="0.9" height="0.9"/><rect x="377.3" y="413.6" width="0.9" height="0.9"/><rect x="414.9" y="423.1" width="0.9" height="0.9"/><rect x="408.7" y="422.4" width="0.9" height="0.9"/><rect x="399.4" y="417.9" width="0.9" height="0.9"/><rect x="399.4" y="422.2" width="0.9" height="0.9"/><rect x="397.2" y="419.6" width="0.9" height="0.9"/><rect x="415.0" y="412.4" width="0.9" height="0.9"/><rect x="390.7" y="420.8" width="0.9" height="0.9"/><rect x="396.1" y="417.2" width="0.9" height="0.9"/><rect x="422.1" y="420.1" width="0.9" height="0.9"/><rect x="394.4" y="423.5" width="0.9" height="0.9"/><rect x="426.7" y="412.5" width="0.9" height="0.9"/><rect x="391.6" y="418.6" width="0.9" height="0.9"/><rect x="392.0" y="428.9" width="0.9" height="0.9"/><rect x="404.8" y="416.0" width="0.9" height="0.9"/><rect x="404.4" y="414.0" width="0.9" height="0.9"/><rect x="392.3" y="418.5" width="0.9" height="0.9"/><rect x="425.3" y="406.7" width="0.9" height="0.9"/><rect x="403.6" y="424.8" width="0.9" height="0.9"/><rect x="407.1" y="427.6" width="0.9" height="0.9"/></g>
<g fill="#6070ff" opacity="0.55"><rect x="413.2" y="389.2" width="0.9" height="0.9"/><rect x="397.0" y="390.8" width="0.9" height="0.9"/><rect x="422.9" y="361.6" width="0.9" height="0.9"/><rect x="399.4" y="393.1" width="0.9" height="0.9"/><rect x="377.2" y="390.8" width="0.9" height="0.9"/><rect x="399.9" y="401.8" width="0.9" height="0.9"/><rect x="413.1" y="399.0" width="0.9" height="0.9"/><rect x="398.0" y="392.8" width="0.9" height="0.9"/><rect x="414.5" y="395.2" width="0.9" height="0.9"/><rect x="380.1" y="397.7" width="0.9" height="0.9"/><rect x="395.9" y="418.2" width="0.9" height="0.9"/><rect x="414.8" y="373.4" width="0.9" height="0.9"/><rect x="412.6" y="399.4" width="0.9" height="0.9"/><rect x="421.7" y="370.1" width="0.9" height="0.9"/><rect x="410.9" y="408.9" width="0.9" height="0.9"/><rect x="389.9" y="415.5" width="0.9" height="0.9"/><rect x="399.8" y="399.1" width="0.9" height="0.9"/><rect x="391.1" y="401.6" width="0.9" height="0.9"/><rect x="417.3" y="408.2" width="0.9" height="0.9"/><rect x="419.1" y="387.5" width="0.9" height="0.9"/><rect x="400.3" y="389.1" width="0.9" height="0.9"/><rect x="409.9" y="407.5" width="0.9" height="0.9"/><rect x="431.8" y="396.7" width="0.9" height="0.9"/><rect x="409.0" y="390.9" width="0.9" height="0.9"/><rect x="381.9" y="422.4" width="0.9" height="0.9"/><rect x="388.0" y="432.2" width="0.9" height="0.9"/><rect x="395.0" y="404.5" width="0.9" height="0.9"/><rect x="380.0" y="411.9" width="0.9" height="0.9"/><rect x="397.9" y="417.3" width="0.9" height="0.9"/><rect x="400.8" y="382.7" width="0.9" height="0.9"/><rect x="373.7" y="423.8" width="0.9" height="0.9"/><rect x="389.6" y="394.3" width="0.9" height="0.9"/><rect x="413.1" y="384.7" width="0.9" height="0.9"/><rect x="402.7" y="389.0" width="0.9" height="0.9"/><rect x="392.7" y="400.3" width="0.9" height="0.9"/><rect x="383.8" y="423.8" width="0.9" height="0.9"/><rect x="399.6" y="376.4" width="0.9" height="0.9"/><rect x="414.6" y="401.8" width="0.9" height="0.9"/><rect x="417.7" y="400.8" width="0.9" height="0.9"/><rect x="400.7" y="399.1" width="0.9" height="0.9"/><rect x="378.0" y="408.1" width="0.9" height="0.9"/><rect x="369.7" y="416.1" width="0.9" height="0.9"/><rect x="412.5" y="395.1" width="0.9" height="0.9"/><rect x="424.5" y="378.3" width="0.9" height="0.9"/><rect x="392.2" y="413.1" width="0.9" height="0.9"/><rect x="415.0" y="410.1" width="0.9" height="0.9"/><rect x="442.9" y="372.3" width="0.9" height="0.9"/><rect x="383.3" y="408.4" width="0.9" height="0.9"/><rect x="403.1" y="386.9" width="0.9" height="0.9"/><rect x="418.1" y="392.0" width="0.9" height="0.9"/></g>
<g filter="url(#b6)">
<ellipse cx="423.5" cy="379" rx="17" ry="4.2" fill="#3050ff" transform="rotate(-43.51094902454475 423.5 379)"/>
<ellipse cx="424.5" cy="378.2" rx="14" ry="3.0" fill="#0a30ff" transform="rotate(-43.51094902454475 424.5 378.2)"/>
<ellipse cx="426" cy="376.8" rx="8" ry="2.1" fill="#00b0f0" transform="rotate(-43.51094902454475 426 376.8)"/>
<ellipse cx="426.2" cy="376.6" rx="5" ry="1.4" fill="#40e060" transform="rotate(-43.51094902454475 426.2 376.6)"/>
<ellipse cx="426.4" cy="376.5" rx="2.2" ry="0.8" fill="#e0e020" transform="rotate(-43.51094902454475 426.4 376.5)"/>
</g>
<g fill="#2a3cff" opacity="0.85"><rect x="529.9" y="372.6" width="0.9" height="0.9"/><rect x="505.2" y="391.6" width="0.9" height="0.9"/><rect x="519.6" y="386.9" width="0.9" height="0.9"/><rect x="541.1" y="365.1" width="0.9" height="0.9"/><rect x="524.6" y="379.5" width="0.9" height="0.9"/><rect x="531.9" y="375.1" width="0.9" height="0.9"/><rect x="526.5" y="368.6" width="0.9" height="0.9"/><rect x="531.7" y="371.5" width="0.9" height="0.9"/><rect x="513.6" y="389.3" width="0.9" height="0.9"/><rect x="522.2" y="378.8" width="0.9" height="0.9"/><rect x="496.7" y="403.7" width="0.9" height="0.9"/><rect x="525.7" y="375.5" width="0.9" height="0.9"/><rect x="498.7" y="403.2" width="0.9" height="0.9"/><rect x="528.3" y="374.0" width="0.9" height="0.9"/><rect x="523.3" y="376.5" width="0.9" height="0.9"/><rect x="511.0" y="391.8" width="0.9" height="0.9"/><rect x="514.2" y="387.3" width="0.9" height="0.9"/><rect x="516.9" y="377.3" width="0.9" height="0.9"/><rect x="521.3" y="383.0" width="0.9" height="0.9"/><rect x="508.8" y="390.7" width="0.9" height="0.9"/><rect x="490.2" y="411.6" width="0.9" height="0.9"/><rect x="512.1" y="391.4" width="0.9" height="0.9"/><rect x="536.0" y="365.2" width="0.9" height="0.9"/><rect x="531.9" y="370.8" width="0.9" height="0.9"/><rect x="515.3" y="384.4" width="0.9" height="0.9"/><rect x="510.0" y="395.8" width="0.9" height="0.9"/><rect x="527.9" y="369.4" width="0.9" height="0.9"/><rect x="528.0" y="370.5" width="0.9" height="0.9"/><rect x="501.3" y="403.8" width="0.9" height="0.9"/><rect x="504.2" y="400.9" width="0.9" height="0.9"/><rect x="523.0" y="382.0" width="0.9" height="0.9"/><rect x="527.6" y="378.7" width="0.9" height="0.9"/><rect x="524.2" y="379.5" width="0.9" height="0.9"/><rect x="524.0" y="381.8" width="0.9" height="0.9"/><rect x="515.5" y="389.6" width="0.9" height="0.9"/><rect x="538.0" y="363.7" width="0.9" height="0.9"/><rect x="523.2" y="375.9" width="0.9" height="0.9"/><rect x="515.3" y="386.6" width="0.9" height="0.9"/><rect x="512.2" y="384.8" width="0.9" height="0.9"/><rect x="518.5" y="383.3" width="0.9" height="0.9"/><rect x="524.2" y="380.0" width="0.9" height="0.9"/><rect x="498.3" y="407.6" width="0.9" height="0.9"/><rect x="514.7" y="382.9" width="0.9" height="0.9"/><rect x="514.6" y="388.1" width="0.9" height="0.9"/><rect x="529.1" y="370.9" width="0.9" height="0.9"/><rect x="517.3" y="377.1" width="0.9" height="0.9"/><rect x="520.5" y="380.2" width="0.9" height="0.9"/><rect x="514.7" y="389.8" width="0.9" height="0.9"/><rect x="544.0" y="362.5" width="0.9" height="0.9"/><rect x="511.5" y="395.5" width="0.9" height="0.9"/><rect x="514.1" y="386.5" width="0.9" height="0.9"/><rect x="511.9" y="390.7" width="0.9" height="0.9"/><rect x="526.0" y="376.0" width="0.9" height="0.9"/><rect x="515.5" y="384.8" width="0.9" height="0.9"/><rect x="515.3" y="389.6" width="0.9" height="0.9"/><rect x="511.4" y="388.6" width="0.9" height="0.9"/><rect x="514.2" y="383.5" width="0.9" height="0.9"/><rect x="512.5" y="382.1" width="0.9" height="0.9"/><rect x="524.9" y="378.6" width="0.9" height="0.9"/><rect x="517.8" y="389.6" width="0.9" height="0.9"/><rect x="509.0" y="393.9" width="0.9" height="0.9"/><rect x="523.6" y="375.4" width="0.9" height="0.9"/><rect x="517.2" y="387.4" width="0.9" height="0.9"/><rect x="519.9" y="382.3" width="0.9" height="0.9"/><rect x="537.1" y="365.7" width="0.9" height="0.9"/><rect x="495.3" y="401.5" width="0.9" height="0.9"/><rect x="529.1" y="371.9" width="0.9" height="0.9"/><rect x="500.4" y="391.5" width="0.9" height="0.9"/><rect x="525.8" y="381.8" width="0.9" height="0.9"/><rect x="497.8" y="393.3" width="0.9" height="0.9"/><rect x="523.9" y="375.2" width="0.9" height="0.9"/><rect x="514.0" y="385.4" width="0.9" height="0.9"/><rect x="507.7" y="394.6" width="0.9" height="0.9"/><rect x="531.2" y="372.0" width="0.9" height="0.9"/><rect x="513.4" y="391.6" width="0.9" height="0.9"/><rect x="518.3" y="385.1" width="0.9" height="0.9"/><rect x="507.7" y="395.4" width="0.9" height="0.9"/><rect x="530.8" y="376.1" width="0.9" height="0.9"/><rect x="519.8" y="383.1" width="0.9" height="0.9"/><rect x="512.9" y="391.5" width="0.9" height="0.9"/><rect x="530.8" y="375.3" width="0.9" height="0.9"/><rect x="511.0" y="384.6" width="0.9" height="0.9"/><rect x="517.2" y="382.9" width="0.9" height="0.9"/><rect x="510.1" y="393.0" width="0.9" height="0.9"/><rect x="531.6" y="371.7" width="0.9" height="0.9"/><rect x="533.7" y="369.7" width="0.9" height="0.9"/><rect x="504.7" y="393.2" width="0.9" height="0.9"/><rect x="515.3" y="388.3" width="0.9" height="0.9"/><rect x="530.7" y="371.5" width="0.9" height="0.9"/><rect x="529.9" y="368.3" width="0.9" height="0.9"/><rect x="520.1" y="387.1" width="0.9" height="0.9"/><rect x="526.4" y="379.3" width="0.9" height="0.9"/><rect x="490.8" y="402.0" width="0.9" height="0.9"/><rect x="509.4" y="395.2" width="0.9" height="0.9"/><rect x="538.2" y="361.3" width="0.9" height="0.9"/><rect x="503.8" y="392.3" width="0.9" height="0.9"/><rect x="508.2" y="394.6" width="0.9" height="0.9"/><rect x="518.3" y="390.4" width="0.9" height="0.9"/><rect x="526.4" y="372.2" width="0.9" height="0.9"/><rect x="521.3" y="379.3" width="0.9" height="0.9"/><rect x="530.6" y="374.8" width="0.9" height="0.9"/><rect x="515.9" y="388.6" width="0.9" height="0.9"/><rect x="525.7" y="375.3" width="0.9" height="0.9"/><rect x="523.2" y="380.8" width="0.9" height="0.9"/><rect x="513.1" y="384.9" width="0.9" height="0.9"/><rect x="534.9" y="367.0" width="0.9" height="0.9"/><rect x="511.9" y="390.7" width="0.9" height="0.9"/><rect x="499.7" y="400.6" width="0.9" height="0.9"/><rect x="500.2" y="398.1" width="0.9" height="0.9"/><rect x="494.2" y="402.7" width="0.9" height="0.9"/><rect x="529.7" y="371.2" width="0.9" height="0.9"/><rect x="506.5" y="401.0" width="0.9" height="0.9"/><rect x="513.5" y="393.3" width="0.9" height="0.9"/><rect x="508.8" y="385.7" width="0.9" height="0.9"/><rect x="541.4" y="359.1" width="0.9" height="0.9"/><rect x="530.7" y="375.7" width="0.9" height="0.9"/><rect x="501.9" y="398.6" width="0.9" height="0.9"/><rect x="512.4" y="390.7" width="0.9" height="0.9"/><rect x="515.8" y="379.9" width="0.9" height="0.9"/><rect x="520.9" y="383.4" width="0.9" height="0.9"/><rect x="515.9" y="387.2" width="0.9" height="0.9"/><rect x="511.7" y="388.8" width="0.9" height="0.9"/><rect x="523.3" y="378.5" width="0.9" height="0.9"/><rect x="536.8" y="369.0" width="0.9" height="0.9"/><rect x="530.8" y="373.7" width="0.9" height="0.9"/><rect x="518.2" y="378.1" width="0.9" height="0.9"/><rect x="535.7" y="373.2" width="0.9" height="0.9"/><rect x="521.0" y="379.2" width="0.9" height="0.9"/><rect x="520.6" y="385.4" width="0.9" height="0.9"/><rect x="520.3" y="376.9" width="0.9" height="0.9"/><rect x="514.9" y="382.9" width="0.9" height="0.9"/><rect x="514.2" y="383.0" width="0.9" height="0.9"/><rect x="510.4" y="396.2" width="0.9" height="0.9"/><rect x="528.7" y="366.3" width="0.9" height="0.9"/><rect x="505.2" y="393.4" width="0.9" height="0.9"/><rect x="510.8" y="384.2" width="0.9" height="0.9"/><rect x="526.7" y="368.2" width="0.9" height="0.9"/><rect x="528.9" y="375.5" width="0.9" height="0.9"/><rect x="512.6" y="385.5" width="0.9" height="0.9"/><rect x="519.7" y="382.0" width="0.9" height="0.9"/><rect x="489.3" y="405.2" width="0.9" height="0.9"/><rect x="525.2" y="375.8" width="0.9" height="0.9"/><rect x="511.3" y="385.3" width="0.9" height="0.9"/><rect x="508.1" y="389.3" width="0.9" height="0.9"/><rect x="539.2" y="364.9" width="0.9" height="0.9"/><rect x="521.7" y="380.2" width="0.9" height="0.9"/><rect x="517.0" y="390.4" width="0.9" height="0.9"/><rect x="525.1" y="376.2" width="0.9" height="0.9"/><rect x="517.5" y="384.3" width="0.9" height="0.9"/><rect x="503.4" y="395.6" width="0.9" height="0.9"/><rect x="511.9" y="391.3" width="0.9" height="0.9"/><rect x="522.5" y="371.2" width="0.9" height="0.9"/><rect x="517.8" y="387.2" width="0.9" height="0.9"/><rect x="499.7" y="395.6" width="0.9" height="0.9"/><rect x="531.1" y="370.0" width="0.9" height="0.9"/><rect x="510.4" y="385.3" width="0.9" height="0.9"/><rect x="519.7" y="379.2" width="0.9" height="0.9"/><rect x="522.2" y="380.7" width="0.9" height="0.9"/><rect x="526.9" y="373.2" width="0.9" height="0.9"/><rect x="512.0" y="388.8" width="0.9" height="0.9"/><rect x="517.7" y="384.0" width="0.9" height="0.9"/><rect x="511.4" y="388.3" width="0.9" height="0.9"/><rect x="510.0" y="388.3" width="0.9" height="0.9"/><rect x="523.0" y="383.0" width="0.9" height="0.9"/><rect x="513.0" y="390.2" width="0.9" height="0.9"/><rect x="523.3" y="378.5" width="0.9" height="0.9"/><rect x="526.2" y="373.0" width="0.9" height="0.9"/><rect x="526.4" y="376.2" width="0.9" height="0.9"/><rect x="474.8" y="425.5" width="0.9" height="0.9"/><rect x="530.2" y="379.3" width="0.9" height="0.9"/><rect x="505.3" y="395.5" width="0.9" height="0.9"/><rect x="521.2" y="376.1" width="0.9" height="0.9"/><rect x="534.9" y="368.8" width="0.9" height="0.9"/><rect x="506.0" y="389.5" width="0.9" height="0.9"/><rect x="518.1" y="392.5" width="0.9" height="0.9"/><rect x="496.7" y="405.9" width="0.9" height="0.9"/><rect x="516.0" y="382.4" width="0.9" height="0.9"/><rect x="526.5" y="375.3" width="0.9" height="0.9"/><rect x="522.8" y="379.5" width="0.9" height="0.9"/><rect x="507.4" y="398.4" width="0.9" height="0.9"/><rect x="515.0" y="390.4" width="0.9" height="0.9"/><rect x="527.5" y="374.1" width="0.9" height="0.9"/><rect x="520.3" y="380.6" width="0.9" height="0.9"/><rect x="494.4" y="404.1" width="0.9" height="0.9"/><rect x="520.8" y="373.8" width="0.9" height="0.9"/><rect x="501.7" y="402.8" width="0.9" height="0.9"/><rect x="525.8" y="369.3" width="0.9" height="0.9"/><rect x="524.4" y="376.7" width="0.9" height="0.9"/><rect x="530.5" y="369.9" width="0.9" height="0.9"/><rect x="514.2" y="383.5" width="0.9" height="0.9"/><rect x="520.7" y="380.0" width="0.9" height="0.9"/><rect x="509.5" y="389.7" width="0.9" height="0.9"/><rect x="510.2" y="392.9" width="0.9" height="0.9"/><rect x="502.2" y="391.7" width="0.9" height="0.9"/><rect x="508.4" y="396.5" width="0.9" height="0.9"/><rect x="513.4" y="390.0" width="0.9" height="0.9"/><rect x="527.0" y="372.4" width="0.9" height="0.9"/><rect x="529.3" y="374.3" width="0.9" height="0.9"/><rect x="516.6" y="381.5" width="0.9" height="0.9"/><rect x="515.2" y="380.4" width="0.9" height="0.9"/><rect x="513.9" y="384.6" width="0.9" height="0.9"/><rect x="524.9" y="377.8" width="0.9" height="0.9"/><rect x="512.1" y="392.1" width="0.9" height="0.9"/><rect x="534.0" y="368.0" width="0.9" height="0.9"/><rect x="510.1" y="392.6" width="0.9" height="0.9"/><rect x="486.0" y="411.0" width="0.9" height="0.9"/><rect x="530.1" y="379.6" width="0.9" height="0.9"/><rect x="512.2" y="394.7" width="0.9" height="0.9"/><rect x="490.5" y="413.6" width="0.9" height="0.9"/><rect x="523.1" y="382.3" width="0.9" height="0.9"/><rect x="515.0" y="383.3" width="0.9" height="0.9"/><rect x="518.7" y="388.5" width="0.9" height="0.9"/><rect x="528.8" y="371.5" width="0.9" height="0.9"/><rect x="525.3" y="379.6" width="0.9" height="0.9"/><rect x="525.8" y="375.4" width="0.9" height="0.9"/><rect x="508.6" y="388.9" width="0.9" height="0.9"/><rect x="511.8" y="386.6" width="0.9" height="0.9"/><rect x="495.3" y="398.8" width="0.9" height="0.9"/><rect x="527.6" y="369.3" width="0.9" height="0.9"/><rect x="501.5" y="398.5" width="0.9" height="0.9"/><rect x="539.8" y="367.4" width="0.9" height="0.9"/><rect x="511.1" y="385.3" width="0.9" height="0.9"/><rect x="509.7" y="387.1" width="0.9" height="0.9"/><rect x="512.4" y="390.3" width="0.9" height="0.9"/><rect x="503.2" y="393.9" width="0.9" height="0.9"/><rect x="515.1" y="385.6" width="0.9" height="0.9"/><rect x="507.0" y="390.2" width="0.9" height="0.9"/><rect x="502.4" y="394.8" width="0.9" height="0.9"/><rect x="524.8" y="375.5" width="0.9" height="0.9"/><rect x="479.5" y="422.1" width="0.9" height="0.9"/><rect x="515.9" y="381.4" width="0.9" height="0.9"/><rect x="509.0" y="379.1" width="0.9" height="0.9"/><rect x="499.5" y="405.4" width="0.9" height="0.9"/><rect x="509.1" y="391.6" width="0.9" height="0.9"/><rect x="526.1" y="370.2" width="0.9" height="0.9"/><rect x="539.7" y="359.4" width="0.9" height="0.9"/><rect x="520.7" y="375.6" width="0.9" height="0.9"/><rect x="523.2" y="377.9" width="0.9" height="0.9"/><rect x="530.2" y="366.6" width="0.9" height="0.9"/><rect x="522.1" y="386.5" width="0.9" height="0.9"/><rect x="503.7" y="398.0" width="0.9" height="0.9"/><rect x="523.2" y="376.0" width="0.9" height="0.9"/><rect x="517.9" y="388.9" width="0.9" height="0.9"/><rect x="534.5" y="369.6" width="0.9" height="0.9"/><rect x="519.7" y="376.7" width="0.9" height="0.9"/><rect x="523.4" y="385.3" width="0.9" height="0.9"/><rect x="529.4" y="366.5" width="0.9" height="0.9"/><rect x="490.1" y="406.7" width="0.9" height="0.9"/><rect x="519.5" y="379.2" width="0.9" height="0.9"/><rect x="515.2" y="387.0" width="0.9" height="0.9"/><rect x="530.6" y="371.8" width="0.9" height="0.9"/><rect x="531.9" y="363.9" width="0.9" height="0.9"/><rect x="525.5" y="377.6" width="0.9" height="0.9"/><rect x="501.7" y="403.7" width="0.9" height="0.9"/><rect x="494.7" y="399.2" width="0.9" height="0.9"/><rect x="526.2" y="380.8" width="0.9" height="0.9"/><rect x="531.2" y="365.8" width="0.9" height="0.9"/><rect x="527.7" y="379.5" width="0.9" height="0.9"/><rect x="516.6" y="384.6" width="0.9" height="0.9"/><rect x="514.0" y="389.9" width="0.9" height="0.9"/><rect x="510.1" y="388.1" width="0.9" height="0.9"/><rect x="500.5" y="395.7" width="0.9" height="0.9"/><rect x="522.4" y="380.8" width="0.9" height="0.9"/><rect x="511.3" y="385.0" width="0.9" height="0.9"/><rect x="523.7" y="379.0" width="0.9" height="0.9"/><rect x="534.2" y="365.6" width="0.9" height="0.9"/><rect x="514.2" y="388.7" width="0.9" height="0.9"/><rect x="538.4" y="363.4" width="0.9" height="0.9"/><rect x="515.5" y="381.5" width="0.9" height="0.9"/><rect x="515.5" y="389.3" width="0.9" height="0.9"/><rect x="532.0" y="374.3" width="0.9" height="0.9"/><rect x="498.7" y="404.8" width="0.9" height="0.9"/><rect x="507.6" y="395.3" width="0.9" height="0.9"/><rect x="487.2" y="411.8" width="0.9" height="0.9"/><rect x="509.6" y="396.3" width="0.9" height="0.9"/><rect x="522.8" y="383.8" width="0.9" height="0.9"/><rect x="516.8" y="392.3" width="0.9" height="0.9"/><rect x="516.6" y="392.2" width="0.9" height="0.9"/><rect x="510.1" y="386.4" width="0.9" height="0.9"/><rect x="529.5" y="370.4" width="0.9" height="0.9"/><rect x="515.0" y="380.3" width="0.9" height="0.9"/><rect x="514.2" y="387.0" width="0.9" height="0.9"/><rect x="510.0" y="392.2" width="0.9" height="0.9"/><rect x="490.1" y="413.2" width="0.9" height="0.9"/><rect x="516.2" y="390.8" width="0.9" height="0.9"/><rect x="512.5" y="385.4" width="0.9" height="0.9"/><rect x="513.2" y="388.7" width="0.9" height="0.9"/><rect x="525.4" y="374.0" width="0.9" height="0.9"/><rect x="508.9" y="393.4" width="0.9" height="0.9"/><rect x="525.8" y="368.3" width="0.9" height="0.9"/><rect x="503.3" y="394.1" width="0.9" height="0.9"/><rect x="543.6" y="363.8" width="0.9" height="0.9"/><rect x="530.1" y="373.6" width="0.9" height="0.9"/><rect x="506.1" y="399.0" width="0.9" height="0.9"/><rect x="511.0" y="386.3" width="0.9" height="0.9"/><rect x="541.1" y="355.0" width="0.9" height="0.9"/><rect x="537.2" y="365.6" width="0.9" height="0.9"/><rect x="506.7" y="394.4" width="0.9" height="0.9"/><rect x="507.8" y="393.5" width="0.9" height="0.9"/><rect x="507.5" y="388.0" width="0.9" height="0.9"/><rect x="531.5" y="370.0" width="0.9" height="0.9"/><rect x="524.8" y="371.2" width="0.9" height="0.9"/><rect x="497.9" y="388.3" width="0.9" height="0.9"/><rect x="532.7" y="370.9" width="0.9" height="0.9"/><rect x="504.7" y="399.1" width="0.9" height="0.9"/><rect x="532.5" y="381.5" width="0.9" height="0.9"/><rect x="523.6" y="381.5" width="0.9" height="0.9"/><rect x="528.3" y="376.5" width="0.9" height="0.9"/><rect x="517.4" y="381.9" width="0.9" height="0.9"/><rect x="530.5" y="376.3" width="0.9" height="0.9"/><rect x="500.7" y="394.6" width="0.9" height="0.9"/><rect x="521.8" y="387.0" width="0.9" height="0.9"/><rect x="512.2" y="381.3" width="0.9" height="0.9"/><rect x="530.8" y="374.0" width="0.9" height="0.9"/><rect x="544.7" y="358.5" width="0.9" height="0.9"/><rect x="543.1" y="356.1" width="0.9" height="0.9"/><rect x="530.8" y="371.4" width="0.9" height="0.9"/><rect x="502.2" y="396.8" width="0.9" height="0.9"/><rect x="538.5" y="368.2" width="0.9" height="0.9"/><rect x="515.9" y="389.6" width="0.9" height="0.9"/><rect x="532.4" y="373.1" width="0.9" height="0.9"/><rect x="523.0" y="379.5" width="0.9" height="0.9"/><rect x="507.5" y="392.7" width="0.9" height="0.9"/><rect x="518.7" y="379.3" width="0.9" height="0.9"/><rect x="515.1" y="386.4" width="0.9" height="0.9"/><rect x="523.6" y="382.1" width="0.9" height="0.9"/><rect x="504.2" y="394.5" width="0.9" height="0.9"/><rect x="521.3" y="378.2" width="0.9" height="0.9"/><rect x="522.0" y="377.3" width="0.9" height="0.9"/><rect x="533.7" y="367.1" width="0.9" height="0.9"/><rect x="505.1" y="398.4" width="0.9" height="0.9"/><rect x="536.5" y="357.3" width="0.9" height="0.9"/><rect x="517.0" y="384.2" width="0.9" height="0.9"/><rect x="535.3" y="372.8" width="0.9" height="0.9"/><rect x="513.2" y="381.0" width="0.9" height="0.9"/><rect x="529.5" y="376.3" width="0.9" height="0.9"/><rect x="524.9" y="376.8" width="0.9" height="0.9"/><rect x="513.0" y="398.0" width="0.9" height="0.9"/><rect x="499.6" y="394.2" width="0.9" height="0.9"/><rect x="532.1" y="370.8" width="0.9" height="0.9"/></g>
<g fill="#2030ff" opacity="0.9"><rect x="496.4" y="397.1" width="0.9" height="0.9"/><rect x="500.5" y="401.7" width="0.9" height="0.9"/><rect x="491.5" y="399.9" width="0.9" height="0.9"/><rect x="489.0" y="388.4" width="0.9" height="0.9"/><rect x="498.6" y="393.8" width="0.9" height="0.9"/><rect x="485.0" y="395.5" width="0.9" height="0.9"/><rect x="491.0" y="397.8" width="0.9" height="0.9"/><rect x="493.5" y="392.4" width="0.9" height="0.9"/><rect x="490.8" y="398.9" width="0.9" height="0.9"/><rect x="490.0" y="396.2" width="0.9" height="0.9"/><rect x="489.7" y="397.5" width="0.9" height="0.9"/><rect x="500.9" y="398.0" width="0.9" height="0.9"/><rect x="498.2" y="397.5" width="0.9" height="0.9"/><rect x="489.8" y="394.4" width="0.9" height="0.9"/><rect x="494.0" y="397.5" width="0.9" height="0.9"/><rect x="491.3" y="398.2" width="0.9" height="0.9"/><rect x="490.8" y="395.9" width="0.9" height="0.9"/><rect x="493.7" y="390.7" width="0.9" height="0.9"/><rect x="497.8" y="395.8" width="0.9" height="0.9"/><rect x="494.2" y="395.5" width="0.9" height="0.9"/><rect x="485.2" y="389.7" width="0.9" height="0.9"/><rect x="490.1" y="399.8" width="0.9" height="0.9"/><rect x="491.4" y="398.2" width="0.9" height="0.9"/><rect x="489.6" y="392.0" width="0.9" height="0.9"/><rect x="491.8" y="400.1" width="0.9" height="0.9"/><rect x="487.0" y="394.9" width="0.9" height="0.9"/><rect x="495.4" y="396.2" width="0.9" height="0.9"/><rect x="493.7" y="398.9" width="0.9" height="0.9"/><rect x="494.9" y="391.4" width="0.9" height="0.9"/><rect x="496.3" y="392.3" width="0.9" height="0.9"/><rect x="492.4" y="401.8" width="0.9" height="0.9"/><rect x="503.6" y="401.8" width="0.9" height="0.9"/><rect x="495.4" y="392.3" width="0.9" height="0.9"/><rect x="490.7" y="402.7" width="0.9" height="0.9"/><rect x="495.1" y="389.8" width="0.9" height="0.9"/><rect x="500.1" y="398.1" width="0.9" height="0.9"/><rect x="499.0" y="397.3" width="0.9" height="0.9"/><rect x="485.0" y="392.5" width="0.9" height="0.9"/><rect x="493.2" y="394.9" width="0.9" height="0.9"/><rect x="499.8" y="392.8" width="0.9" height="0.9"/><rect x="493.3" y="395.4" width="0.9" height="0.9"/><rect x="493.4" y="391.2" width="0.9" height="0.9"/><rect x="488.8" y="384.7" width="0.9" height="0.9"/><rect x="495.1" y="394.8" width="0.9" height="0.9"/><rect x="494.5" y="391.2" width="0.9" height="0.9"/><rect x="493.7" y="391.5" width="0.9" height="0.9"/><rect x="489.6" y="397.1" width="0.9" height="0.9"/><rect x="496.3" y="398.1" width="0.9" height="0.9"/><rect x="493.6" y="394.0" width="0.9" height="0.9"/><rect x="499.4" y="400.9" width="0.9" height="0.9"/><rect x="491.2" y="391.0" width="0.9" height="0.9"/><rect x="495.2" y="397.0" width="0.9" height="0.9"/><rect x="490.0" y="405.3" width="0.9" height="0.9"/><rect x="485.3" y="392.1" width="0.9" height="0.9"/><rect x="494.7" y="399.8" width="0.9" height="0.9"/><rect x="486.3" y="393.8" width="0.9" height="0.9"/><rect x="499.5" y="401.6" width="0.9" height="0.9"/><rect x="492.7" y="395.8" width="0.9" height="0.9"/><rect x="490.2" y="397.3" width="0.9" height="0.9"/><rect x="489.5" y="387.0" width="0.9" height="0.9"/><rect x="487.6" y="395.9" width="0.9" height="0.9"/><rect x="488.4" y="400.3" width="0.9" height="0.9"/><rect x="498.9" y="399.8" width="0.9" height="0.9"/><rect x="496.4" y="400.4" width="0.9" height="0.9"/><rect x="494.8" y="399.3" width="0.9" height="0.9"/><rect x="495.6" y="398.9" width="0.9" height="0.9"/><rect x="489.6" y="392.8" width="0.9" height="0.9"/><rect x="489.7" y="399.1" width="0.9" height="0.9"/><rect x="495.8" y="392.3" width="0.9" height="0.9"/><rect x="489.7" y="393.2" width="0.9" height="0.9"/><rect x="497.2" y="395.1" width="0.9" height="0.9"/><rect x="492.8" y="392.7" width="0.9" height="0.9"/><rect x="493.2" y="402.4" width="0.9" height="0.9"/><rect x="491.0" y="394.1" width="0.9" height="0.9"/><rect x="500.6" y="398.7" width="0.9" height="0.9"/><rect x="489.1" y="400.2" width="0.9" height="0.9"/><rect x="488.6" y="398.0" width="0.9" height="0.9"/><rect x="483.5" y="391.4" width="0.9" height="0.9"/><rect x="497.4" y="393.1" width="0.9" height="0.9"/><rect x="490.8" y="395.9" width="0.9" height="0.9"/><rect x="493.7" y="393.6" width="0.9" height="0.9"/><rect x="491.0" y="403.2" width="0.9" height="0.9"/><rect x="499.7" y="397.0" width="0.9" height="0.9"/><rect x="489.1" y="393.4" width="0.9" height="0.9"/><rect x="492.6" y="397.7" width="0.9" height="0.9"/><rect x="500.2" y="393.4" width="0.9" height="0.9"/><rect x="494.3" y="393.8" width="0.9" height="0.9"/><rect x="494.3" y="392.7" width="0.9" height="0.9"/><rect x="495.3" y="400.5" width="0.9" height="0.9"/><rect x="492.1" y="394.2" width="0.9" height="0.9"/><rect x="494.2" y="390.1" width="0.9" height="0.9"/><rect x="501.0" y="390.0" width="0.9" height="0.9"/><rect x="492.3" y="391.9" width="0.9" height="0.9"/><rect x="499.8" y="393.6" width="0.9" height="0.9"/><rect x="491.7" y="403.6" width="0.9" height="0.9"/><rect x="493.2" y="392.3" width="0.9" height="0.9"/><rect x="493.7" y="396.5" width="0.9" height="0.9"/><rect x="490.7" y="394.9" width="0.9" height="0.9"/><rect x="492.9" y="398.7" width="0.9" height="0.9"/><rect x="496.8" y="399.2" width="0.9" height="0.9"/><rect x="493.2" y="399.0" width="0.9" height="0.9"/><rect x="492.9" y="400.5" width="0.9" height="0.9"/><rect x="495.4" y="393.8" width="0.9" height="0.9"/><rect x="498.7" y="389.2" width="0.9" height="0.9"/><rect x="489.8" y="392.3" width="0.9" height="0.9"/><rect x="493.2" y="390.4" width="0.9" height="0.9"/><rect x="488.9" y="387.6" width="0.9" height="0.9"/><rect x="494.2" y="392.4" width="0.9" height="0.9"/><rect x="502.6" y="398.9" width="0.9" height="0.9"/><rect x="489.1" y="401.2" width="0.9" height="0.9"/><rect x="494.2" y="400.2" width="0.9" height="0.9"/><rect x="489.3" y="400.5" width="0.9" height="0.9"/><rect x="498.2" y="393.9" width="0.9" height="0.9"/><rect x="490.3" y="394.0" width="0.9" height="0.9"/><rect x="494.8" y="405.8" width="0.9" height="0.9"/><rect x="501.0" y="402.0" width="0.9" height="0.9"/><rect x="492.8" y="394.2" width="0.9" height="0.9"/><rect x="495.2" y="394.5" width="0.9" height="0.9"/><rect x="491.8" y="394.8" width="0.9" height="0.9"/><rect x="497.1" y="395.3" width="0.9" height="0.9"/><rect x="494.7" y="394.5" width="0.9" height="0.9"/><rect x="492.9" y="394.2" width="0.9" height="0.9"/><rect x="498.8" y="396.6" width="0.9" height="0.9"/><rect x="499.7" y="394.9" width="0.9" height="0.9"/><rect x="498.0" y="389.8" width="0.9" height="0.9"/><rect x="492.1" y="395.4" width="0.9" height="0.9"/><rect x="491.2" y="395.1" width="0.9" height="0.9"/><rect x="490.0" y="394.9" width="0.9" height="0.9"/><rect x="491.0" y="395.6" width="0.9" height="0.9"/><rect x="492.5" y="391.4" width="0.9" height="0.9"/><rect x="492.1" y="395.8" width="0.9" height="0.9"/><rect x="488.6" y="396.0" width="0.9" height="0.9"/><rect x="498.8" y="394.7" width="0.9" height="0.9"/><rect x="495.9" y="398.3" width="0.9" height="0.9"/><rect x="490.5" y="401.2" width="0.9" height="0.9"/><rect x="503.8" y="391.3" width="0.9" height="0.9"/><rect x="502.4" y="392.6" width="0.9" height="0.9"/><rect x="499.6" y="388.0" width="0.9" height="0.9"/><rect x="498.3" y="396.2" width="0.9" height="0.9"/><rect x="488.6" y="392.2" width="0.9" height="0.9"/><rect x="489.5" y="391.8" width="0.9" height="0.9"/><rect x="495.3" y="394.9" width="0.9" height="0.9"/><rect x="483.6" y="394.3" width="0.9" height="0.9"/><rect x="495.6" y="396.0" width="0.9" height="0.9"/><rect x="500.5" y="387.9" width="0.9" height="0.9"/><rect x="494.7" y="395.8" width="0.9" height="0.9"/><rect x="496.6" y="390.0" width="0.9" height="0.9"/><rect x="488.5" y="394.9" width="0.9" height="0.9"/><rect x="494.0" y="388.0" width="0.9" height="0.9"/><rect x="495.2" y="395.6" width="0.9" height="0.9"/><rect x="496.7" y="384.6" width="0.9" height="0.9"/><rect x="495.7" y="391.9" width="0.9" height="0.9"/><rect x="491.8" y="398.9" width="0.9" height="0.9"/><rect x="500.5" y="396.3" width="0.9" height="0.9"/><rect x="493.3" y="401.2" width="0.9" height="0.9"/><rect x="490.1" y="395.0" width="0.9" height="0.9"/><rect x="491.7" y="391.5" width="0.9" height="0.9"/><rect x="494.5" y="404.2" width="0.9" height="0.9"/><rect x="494.7" y="397.7" width="0.9" height="0.9"/><rect x="493.6" y="400.4" width="0.9" height="0.9"/><rect x="494.5" y="391.9" width="0.9" height="0.9"/><rect x="494.1" y="401.7" width="0.9" height="0.9"/><rect x="493.4" y="400.7" width="0.9" height="0.9"/><rect x="493.4" y="404.2" width="0.9" height="0.9"/><rect x="494.9" y="398.4" width="0.9" height="0.9"/><rect x="492.6" y="399.2" width="0.9" height="0.9"/><rect x="492.8" y="389.4" width="0.9" height="0.9"/><rect x="494.9" y="390.5" width="0.9" height="0.9"/><rect x="499.7" y="399.0" width="0.9" height="0.9"/><rect x="493.8" y="398.5" width="0.9" height="0.9"/><rect x="483.3" y="402.1" width="0.9" height="0.9"/><rect x="491.1" y="398.5" width="0.9" height="0.9"/><rect x="504.0" y="388.8" width="0.9" height="0.9"/><rect x="492.1" y="397.1" width="0.9" height="0.9"/><rect x="495.4" y="388.5" width="0.9" height="0.9"/><rect x="490.0" y="401.9" width="0.9" height="0.9"/><rect x="491.3" y="398.0" width="0.9" height="0.9"/><rect x="488.2" y="391.8" width="0.9" height="0.9"/><rect x="486.4" y="396.8" width="0.9" height="0.9"/><rect x="498.4" y="396.0" width="0.9" height="0.9"/><rect x="492.6" y="396.7" width="0.9" height="0.9"/><rect x="495.6" y="394.4" width="0.9" height="0.9"/><rect x="496.0" y="403.9" width="0.9" height="0.9"/><rect x="502.7" y="393.2" width="0.9" height="0.9"/><rect x="488.7" y="403.7" width="0.9" height="0.9"/><rect x="497.7" y="400.8" width="0.9" height="0.9"/><rect x="496.2" y="394.7" width="0.9" height="0.9"/><rect x="497.7" y="400.4" width="0.9" height="0.9"/><rect x="498.5" y="391.0" width="0.9" height="0.9"/><rect x="497.9" y="394.2" width="0.9" height="0.9"/><rect x="492.3" y="397.1" width="0.9" height="0.9"/><rect x="492.3" y="405.4" width="0.9" height="0.9"/><rect x="496.0" y="396.8" width="0.9" height="0.9"/><rect x="493.0" y="396.7" width="0.9" height="0.9"/><rect x="492.8" y="398.1" width="0.9" height="0.9"/><rect x="497.2" y="399.2" width="0.9" height="0.9"/><rect x="488.7" y="394.2" width="0.9" height="0.9"/><rect x="494.1" y="390.5" width="0.9" height="0.9"/><rect x="495.3" y="395.0" width="0.9" height="0.9"/><rect x="494.0" y="397.3" width="0.9" height="0.9"/><rect x="491.2" y="402.2" width="0.9" height="0.9"/><rect x="497.9" y="393.3" width="0.9" height="0.9"/><rect x="495.6" y="398.8" width="0.9" height="0.9"/><rect x="490.7" y="394.1" width="0.9" height="0.9"/><rect x="496.5" y="384.7" width="0.9" height="0.9"/><rect x="488.4" y="397.0" width="0.9" height="0.9"/><rect x="496.2" y="391.7" width="0.9" height="0.9"/><rect x="497.2" y="405.0" width="0.9" height="0.9"/><rect x="494.6" y="395.5" width="0.9" height="0.9"/><rect x="494.0" y="391.4" width="0.9" height="0.9"/><rect x="496.0" y="396.4" width="0.9" height="0.9"/><rect x="496.7" y="401.7" width="0.9" height="0.9"/><rect x="493.9" y="396.4" width="0.9" height="0.9"/><rect x="495.1" y="403.0" width="0.9" height="0.9"/><rect x="487.9" y="395.6" width="0.9" height="0.9"/><rect x="491.2" y="396.2" width="0.9" height="0.9"/><rect x="497.1" y="395.9" width="0.9" height="0.9"/><rect x="496.7" y="396.4" width="0.9" height="0.9"/><rect x="490.9" y="392.9" width="0.9" height="0.9"/><rect x="488.2" y="396.6" width="0.9" height="0.9"/><rect x="492.2" y="399.2" width="0.9" height="0.9"/><rect x="497.6" y="391.9" width="0.9" height="0.9"/><rect x="489.4" y="398.2" width="0.9" height="0.9"/><rect x="490.2" y="396.5" width="0.9" height="0.9"/><rect x="496.2" y="394.0" width="0.9" height="0.9"/><rect x="500.9" y="392.4" width="0.9" height="0.9"/><rect x="495.5" y="393.9" width="0.9" height="0.9"/><rect x="482.2" y="394.9" width="0.9" height="0.9"/><rect x="493.1" y="398.1" width="0.9" height="0.9"/><rect x="493.2" y="392.6" width="0.9" height="0.9"/></g>
<g fill="#3a4aff" opacity="0.8"><rect x="478.4" y="421.4" width="0.9" height="0.9"/><rect x="483.7" y="421.5" width="0.9" height="0.9"/><rect x="485.8" y="427.4" width="0.9" height="0.9"/><rect x="477.4" y="428.4" width="0.9" height="0.9"/><rect x="471.0" y="423.1" width="0.9" height="0.9"/><rect x="476.4" y="422.4" width="0.9" height="0.9"/><rect x="485.4" y="423.0" width="0.9" height="0.9"/><rect x="479.8" y="429.6" width="0.9" height="0.9"/><rect x="477.3" y="418.6" width="0.9" height="0.9"/><rect x="484.7" y="426.2" width="0.9" height="0.9"/><rect x="474.5" y="423.8" width="0.9" height="0.9"/><rect x="483.8" y="422.1" width="0.9" height="0.9"/><rect x="478.8" y="423.7" width="0.9" height="0.9"/><rect x="481.4" y="419.3" width="0.9" height="0.9"/><rect x="484.1" y="414.7" width="0.9" height="0.9"/><rect x="480.2" y="434.1" width="0.9" height="0.9"/><rect x="476.1" y="422.8" width="0.9" height="0.9"/><rect x="471.0" y="418.6" width="0.9" height="0.9"/><rect x="475.7" y="423.3" width="0.9" height="0.9"/><rect x="478.5" y="432.6" width="0.9" height="0.9"/><rect x="476.7" y="422.8" width="0.9" height="0.9"/><rect x="481.5" y="426.3" width="0.9" height="0.9"/><rect x="484.3" y="414.8" width="0.9" height="0.9"/><rect x="489.8" y="421.3" width="0.9" height="0.9"/><rect x="477.5" y="414.4" width="0.9" height="0.9"/><rect x="478.7" y="413.7" width="0.9" height="0.9"/><rect x="481.3" y="419.8" width="0.9" height="0.9"/><rect x="481.9" y="418.8" width="0.9" height="0.9"/><rect x="480.9" y="434.6" width="0.9" height="0.9"/><rect x="485.5" y="423.8" width="0.9" height="0.9"/><rect x="476.4" y="430.6" width="0.9" height="0.9"/><rect x="473.4" y="415.6" width="0.9" height="0.9"/><rect x="486.0" y="419.8" width="0.9" height="0.9"/><rect x="486.2" y="425.9" width="0.9" height="0.9"/><rect x="489.7" y="432.3" width="0.9" height="0.9"/><rect x="483.0" y="419.7" width="0.9" height="0.9"/><rect x="483.0" y="430.3" width="0.9" height="0.9"/><rect x="481.1" y="407.8" width="0.9" height="0.9"/><rect x="478.9" y="421.0" width="0.9" height="0.9"/><rect x="480.3" y="421.1" width="0.9" height="0.9"/><rect x="485.3" y="416.3" width="0.9" height="0.9"/><rect x="482.4" y="412.6" width="0.9" height="0.9"/><rect x="471.4" y="417.7" width="0.9" height="0.9"/><rect x="477.4" y="418.3" width="0.9" height="0.9"/><rect x="477.6" y="426.1" width="0.9" height="0.9"/><rect x="483.0" y="423.3" width="0.9" height="0.9"/><rect x="481.4" y="419.3" width="0.9" height="0.9"/><rect x="476.4" y="415.5" width="0.9" height="0.9"/><rect x="478.8" y="417.0" width="0.9" height="0.9"/><rect x="479.1" y="426.7" width="0.9" height="0.9"/><rect x="482.8" y="429.8" width="0.9" height="0.9"/><rect x="476.6" y="411.5" width="0.9" height="0.9"/><rect x="475.8" y="433.3" width="0.9" height="0.9"/><rect x="483.5" y="420.6" width="0.9" height="0.9"/><rect x="486.1" y="420.8" width="0.9" height="0.9"/><rect x="487.5" y="420.8" width="0.9" height="0.9"/><rect x="478.8" y="426.5" width="0.9" height="0.9"/><rect x="475.7" y="422.1" width="0.9" height="0.9"/><rect x="488.7" y="425.2" width="0.9" height="0.9"/><rect x="475.9" y="421.6" width="0.9" height="0.9"/><rect x="480.4" y="419.0" width="0.9" height="0.9"/><rect x="482.2" y="429.4" width="0.9" height="0.9"/><rect x="480.7" y="427.5" width="0.9" height="0.9"/><rect x="481.7" y="423.6" width="0.9" height="0.9"/><rect x="477.3" y="427.9" width="0.9" height="0.9"/><rect x="486.2" y="420.6" width="0.9" height="0.9"/><rect x="476.8" y="425.6" width="0.9" height="0.9"/><rect x="480.9" y="428.8" width="0.9" height="0.9"/><rect x="482.6" y="422.2" width="0.9" height="0.9"/><rect x="474.7" y="426.1" width="0.9" height="0.9"/><rect x="480.9" y="416.3" width="0.9" height="0.9"/><rect x="474.2" y="413.4" width="0.9" height="0.9"/><rect x="483.1" y="420.6" width="0.9" height="0.9"/><rect x="466.5" y="418.3" width="0.9" height="0.9"/><rect x="477.8" y="422.3" width="0.9" height="0.9"/><rect x="480.6" y="421.1" width="0.9" height="0.9"/><rect x="483.6" y="428.2" width="0.9" height="0.9"/><rect x="479.6" y="431.1" width="0.9" height="0.9"/><rect x="480.0" y="418.4" width="0.9" height="0.9"/><rect x="481.1" y="415.4" width="0.9" height="0.9"/><rect x="479.2" y="417.4" width="0.9" height="0.9"/><rect x="478.7" y="423.9" width="0.9" height="0.9"/><rect x="470.2" y="424.9" width="0.9" height="0.9"/><rect x="481.6" y="421.8" width="0.9" height="0.9"/><rect x="483.5" y="424.7" width="0.9" height="0.9"/><rect x="479.0" y="417.7" width="0.9" height="0.9"/><rect x="483.6" y="426.8" width="0.9" height="0.9"/><rect x="474.3" y="419.1" width="0.9" height="0.9"/><rect x="475.5" y="427.2" width="0.9" height="0.9"/><rect x="478.1" y="416.4" width="0.9" height="0.9"/><rect x="486.8" y="425.3" width="0.9" height="0.9"/><rect x="481.5" y="424.2" width="0.9" height="0.9"/><rect x="479.7" y="423.1" width="0.9" height="0.9"/><rect x="484.3" y="425.2" width="0.9" height="0.9"/><rect x="478.6" y="423.4" width="0.9" height="0.9"/><rect x="488.4" y="420.0" width="0.9" height="0.9"/><rect x="474.9" y="423.5" width="0.9" height="0.9"/><rect x="475.7" y="436.6" width="0.9" height="0.9"/><rect x="483.1" y="425.9" width="0.9" height="0.9"/><rect x="482.0" y="433.1" width="0.9" height="0.9"/><rect x="476.2" y="422.6" width="0.9" height="0.9"/><rect x="473.4" y="429.3" width="0.9" height="0.9"/><rect x="480.2" y="432.1" width="0.9" height="0.9"/><rect x="479.3" y="417.4" width="0.9" height="0.9"/><rect x="477.5" y="427.1" width="0.9" height="0.9"/><rect x="477.0" y="424.2" width="0.9" height="0.9"/><rect x="477.4" y="419.1" width="0.9" height="0.9"/><rect x="478.1" y="431.3" width="0.9" height="0.9"/><rect x="475.9" y="424.5" width="0.9" height="0.9"/><rect x="483.9" y="419.0" width="0.9" height="0.9"/><rect x="474.1" y="430.7" width="0.9" height="0.9"/><rect x="487.8" y="421.6" width="0.9" height="0.9"/><rect x="475.4" y="427.4" width="0.9" height="0.9"/><rect x="480.3" y="418.5" width="0.9" height="0.9"/><rect x="478.8" y="410.4" width="0.9" height="0.9"/><rect x="477.0" y="416.5" width="0.9" height="0.9"/><rect x="474.9" y="425.9" width="0.9" height="0.9"/><rect x="481.6" y="431.7" width="0.9" height="0.9"/><rect x="469.1" y="419.4" width="0.9" height="0.9"/><rect x="476.9" y="429.8" width="0.9" height="0.9"/></g>
<g fill="#3a4aff" opacity="0.75"><rect x="512.4" y="402.0" width="0.9" height="0.9"/><rect x="500.5" y="406.0" width="0.9" height="0.9"/><rect x="496.4" y="412.4" width="0.9" height="0.9"/><rect x="488.6" y="439.4" width="0.9" height="0.9"/><rect x="517.9" y="413.1" width="0.9" height="0.9"/><rect x="515.7" y="401.9" width="0.9" height="0.9"/><rect x="503.1" y="395.7" width="0.9" height="0.9"/><rect x="497.5" y="422.2" width="0.9" height="0.9"/><rect x="492.7" y="406.1" width="0.9" height="0.9"/><rect x="497.3" y="404.5" width="0.9" height="0.9"/><rect x="509.3" y="416.9" width="0.9" height="0.9"/><rect x="490.9" y="417.6" width="0.9" height="0.9"/><rect x="507.5" y="405.3" width="0.9" height="0.9"/><rect x="500.9" y="404.8" width="0.9" height="0.9"/><rect x="489.9" y="402.4" width="0.9" height="0.9"/><rect x="506.6" y="417.2" width="0.9" height="0.9"/><rect x="492.1" y="418.6" width="0.9" height="0.9"/><rect x="514.1" y="409.5" width="0.9" height="0.9"/><rect x="509.3" y="396.5" width="0.9" height="0.9"/><rect x="506.4" y="421.3" width="0.9" height="0.9"/><rect x="499.8" y="415.2" width="0.9" height="0.9"/><rect x="492.6" y="414.2" width="0.9" height="0.9"/><rect x="474.3" y="432.5" width="0.9" height="0.9"/><rect x="479.1" y="424.0" width="0.9" height="0.9"/><rect x="499.7" y="424.2" width="0.9" height="0.9"/><rect x="511.1" y="405.5" width="0.9" height="0.9"/><rect x="492.3" y="408.3" width="0.9" height="0.9"/><rect x="503.5" y="402.4" width="0.9" height="0.9"/><rect x="505.6" y="415.2" width="0.9" height="0.9"/><rect x="500.9" y="411.6" width="0.9" height="0.9"/><rect x="498.3" y="423.0" width="0.9" height="0.9"/><rect x="510.3" y="408.8" width="0.9" height="0.9"/><rect x="510.2" y="389.3" width="0.9" height="0.9"/><rect x="505.6" y="412.7" width="0.9" height="0.9"/><rect x="506.9" y="408.7" width="0.9" height="0.9"/><rect x="500.4" y="399.4" width="0.9" height="0.9"/><rect x="506.9" y="415.9" width="0.9" height="0.9"/><rect x="501.4" y="409.7" width="0.9" height="0.9"/><rect x="502.8" y="395.3" width="0.9" height="0.9"/><rect x="512.5" y="413.5" width="0.9" height="0.9"/><rect x="497.0" y="408.6" width="0.9" height="0.9"/><rect x="505.4" y="403.7" width="0.9" height="0.9"/><rect x="496.1" y="417.7" width="0.9" height="0.9"/><rect x="490.8" y="427.0" width="0.9" height="0.9"/><rect x="489.8" y="417.7" width="0.9" height="0.9"/><rect x="508.9" y="403.9" width="0.9" height="0.9"/><rect x="510.7" y="414.0" width="0.9" height="0.9"/><rect x="524.8" y="406.6" width="0.9" height="0.9"/><rect x="501.7" y="418.8" width="0.9" height="0.9"/><rect x="491.4" y="427.5" width="0.9" height="0.9"/><rect x="511.1" y="396.0" width="0.9" height="0.9"/><rect x="510.3" y="409.9" width="0.9" height="0.9"/><rect x="498.6" y="408.6" width="0.9" height="0.9"/><rect x="510.4" y="391.7" width="0.9" height="0.9"/><rect x="508.1" y="412.9" width="0.9" height="0.9"/><rect x="511.4" y="415.1" width="0.9" height="0.9"/><rect x="517.7" y="399.8" width="0.9" height="0.9"/><rect x="521.5" y="398.6" width="0.9" height="0.9"/><rect x="490.4" y="419.0" width="0.9" height="0.9"/><rect x="505.9" y="408.7" width="0.9" height="0.9"/><rect x="497.3" y="434.4" width="0.9" height="0.9"/><rect x="484.1" y="418.2" width="0.9" height="0.9"/><rect x="507.5" y="407.2" width="0.9" height="0.9"/><rect x="517.2" y="398.2" width="0.9" height="0.9"/><rect x="509.0" y="410.2" width="0.9" height="0.9"/><rect x="490.8" y="410.5" width="0.9" height="0.9"/><rect x="502.9" y="418.5" width="0.9" height="0.9"/><rect x="505.4" y="418.0" width="0.9" height="0.9"/><rect x="501.0" y="418.1" width="0.9" height="0.9"/><rect x="506.5" y="413.6" width="0.9" height="0.9"/><rect x="503.6" y="410.9" width="0.9" height="0.9"/><rect x="503.8" y="419.5" width="0.9" height="0.9"/><rect x="504.5" y="412.6" width="0.9" height="0.9"/><rect x="504.7" y="400.7" width="0.9" height="0.9"/><rect x="495.2" y="416.8" width="0.9" height="0.9"/><rect x="509.6" y="394.8" width="0.9" height="0.9"/><rect x="489.6" y="414.3" width="0.9" height="0.9"/><rect x="494.8" y="408.7" width="0.9" height="0.9"/><rect x="497.7" y="419.3" width="0.9" height="0.9"/><rect x="493.1" y="419.2" width="0.9" height="0.9"/><rect x="491.5" y="419.1" width="0.9" height="0.9"/><rect x="498.9" y="396.9" width="0.9" height="0.9"/><rect x="504.2" y="410.6" width="0.9" height="0.9"/><rect x="503.3" y="411.7" width="0.9" height="0.9"/><rect x="501.0" y="400.9" width="0.9" height="0.9"/><rect x="504.4" y="414.0" width="0.9" height="0.9"/><rect x="508.5" y="393.3" width="0.9" height="0.9"/><rect x="491.8" y="409.0" width="0.9" height="0.9"/><rect x="498.1" y="405.5" width="0.9" height="0.9"/><rect x="497.3" y="421.7" width="0.9" height="0.9"/></g>
<g fill="#6070ff" opacity="0.55"><rect x="523.2" y="357.3" width="0.9" height="0.9"/><rect x="515.5" y="385.9" width="0.9" height="0.9"/><rect x="521.3" y="371.0" width="0.9" height="0.9"/><rect x="483.2" y="409.7" width="0.9" height="0.9"/><rect x="507.1" y="373.0" width="0.9" height="0.9"/><rect x="507.3" y="387.7" width="0.9" height="0.9"/><rect x="503.0" y="392.0" width="0.9" height="0.9"/><rect x="517.8" y="391.3" width="0.9" height="0.9"/><rect x="491.1" y="397.3" width="0.9" height="0.9"/><rect x="476.1" y="428.7" width="0.9" height="0.9"/><rect x="473.2" y="408.5" width="0.9" height="0.9"/><rect x="517.9" y="394.3" width="0.9" height="0.9"/><rect x="515.6" y="365.6" width="0.9" height="0.9"/><rect x="513.0" y="400.2" width="0.9" height="0.9"/><rect x="481.5" y="408.5" width="0.9" height="0.9"/><rect x="471.0" y="411.6" width="0.9" height="0.9"/><rect x="513.9" y="383.1" width="0.9" height="0.9"/><rect x="488.0" y="396.8" width="0.9" height="0.9"/><rect x="534.8" y="374.3" width="0.9" height="0.9"/><rect x="494.1" y="436.6" width="0.9" height="0.9"/><rect x="490.5" y="401.3" width="0.9" height="0.9"/><rect x="485.5" y="399.0" width="0.9" height="0.9"/><rect x="499.7" y="370.8" width="0.9" height="0.9"/><rect x="497.5" y="391.7" width="0.9" height="0.9"/><rect x="536.1" y="367.0" width="0.9" height="0.9"/><rect x="512.3" y="391.9" width="0.9" height="0.9"/><rect x="512.0" y="385.5" width="0.9" height="0.9"/><rect x="456.6" y="443.1" width="0.9" height="0.9"/><rect x="499.4" y="407.1" width="0.9" height="0.9"/><rect x="501.0" y="384.7" width="0.9" height="0.9"/><rect x="474.2" y="402.3" width="0.9" height="0.9"/><rect x="504.2" y="389.1" width="0.9" height="0.9"/><rect x="479.8" y="407.9" width="0.9" height="0.9"/><rect x="500.8" y="383.0" width="0.9" height="0.9"/><rect x="492.2" y="392.1" width="0.9" height="0.9"/><rect x="507.6" y="401.1" width="0.9" height="0.9"/><rect x="518.4" y="365.2" width="0.9" height="0.9"/><rect x="513.2" y="386.7" width="0.9" height="0.9"/><rect x="508.1" y="401.0" width="0.9" height="0.9"/><rect x="505.8" y="368.2" width="0.9" height="0.9"/><rect x="526.3" y="366.9" width="0.9" height="0.9"/><rect x="481.3" y="401.1" width="0.9" height="0.9"/><rect x="486.1" y="389.3" width="0.9" height="0.9"/><rect x="523.9" y="379.2" width="0.9" height="0.9"/><rect x="489.5" y="418.6" width="0.9" height="0.9"/><rect x="504.9" y="391.6" width="0.9" height="0.9"/><rect x="517.2" y="377.0" width="0.9" height="0.9"/><rect x="499.0" y="404.2" width="0.9" height="0.9"/><rect x="518.2" y="395.4" width="0.9" height="0.9"/><rect x="467.9" y="425.5" width="0.9" height="0.9"/><rect x="484.8" y="404.6" width="0.9" height="0.9"/><rect x="523.5" y="397.3" width="0.9" height="0.9"/><rect x="541.1" y="371.6" width="0.9" height="0.9"/><rect x="513.1" y="384.8" width="0.9" height="0.9"/><rect x="467.6" y="432.2" width="0.9" height="0.9"/><rect x="467.9" y="406.8" width="0.9" height="0.9"/><rect x="488.9" y="379.1" width="0.9" height="0.9"/><rect x="538.3" y="368.5" width="0.9" height="0.9"/><rect x="510.7" y="392.8" width="0.9" height="0.9"/><rect x="504.9" y="391.3" width="0.9" height="0.9"/></g>
<g filter="url(#b6)">
<ellipse cx="518.5" cy="382.5" rx="24" ry="4.2" fill="#3050ff" transform="rotate(-43.51094902454475 518.5 382.5)"/>
<ellipse cx="519" cy="382.2" rx="20" ry="3.0" fill="#0a30ff" transform="rotate(-43.51094902454475 519 382.2)"/>
<ellipse cx="520" cy="381.7" rx="14" ry="2.0" fill="#00b0f0" transform="rotate(-43.51094902454475 520 381.7)"/>
<ellipse cx="520.2" cy="381.5" rx="8.5" ry="1.3" fill="#40e060" transform="rotate(-43.51094902454475 520.2 381.5)"/>
<ellipse cx="520.4" cy="381.4" rx="3.2" ry="0.9" fill="#e0e020" transform="rotate(-43.51094902454475 520.4 381.4)"/>
</g>
<g filter="url(#b9)" opacity="0.55">
<ellipse cx="493.7" cy="395.6" rx="4.2" ry="4.2" fill="#2040ff" transform="rotate(0 493.7 395.6)"/>
<ellipse cx="480.5" cy="422.9" rx="3.5" ry="4.5" fill="#4060ff" transform="rotate(0 480.5 422.9)"/>
</g>
<line x1="353.6" y1="444.0" x2="450.3" y2="352.2" stroke="#444" stroke-width="1.1"/>
<line x1="454.5" y1="444.9" x2="549.7" y2="353.3" stroke="#444" stroke-width="1.1"/>
<line x1="602.1" y1="349.5" x2="602.1" y2="463.3" stroke="#000" stroke-width="1.4"/>
<line x1="598.3" y1="349.5" x2="602.1" y2="349.5" stroke="#000" stroke-width="1.3"/>
<text x="597.0" y="352.7" font-size="9.0" text-anchor="end" font-weight="normal" fill="#1e1e1e" stroke="#1e1e1e" stroke-width="0.22" >30</text>
<line x1="598.3" y1="387.1" x2="602.1" y2="387.1" stroke="#000" stroke-width="1.3"/>
<text x="597.0" y="390.3" font-size="9.0" text-anchor="end" font-weight="normal" fill="#1e1e1e" stroke="#1e1e1e" stroke-width="0.22" >20</text>
<line x1="598.3" y1="424.7" x2="602.1" y2="424.7" stroke="#000" stroke-width="1.3"/>
<text x="597.0" y="427.9" font-size="9.0" text-anchor="end" font-weight="normal" fill="#1e1e1e" stroke="#1e1e1e" stroke-width="0.22" >10</text>
<line x1="598.3" y1="462.3" x2="602.1" y2="462.3" stroke="#000" stroke-width="1.3"/>
<text x="597.0" y="465.5" font-size="9.0" text-anchor="end" font-weight="normal" fill="#1e1e1e" stroke="#1e1e1e" stroke-width="0.22" >0</text>
<line x1="601.4" y1="462.6" x2="697.3" y2="462.6" stroke="#000" stroke-width="1.4"/>
<line x1="616.5" y1="450.3" x2="616.5" y2="448.5" stroke="#000" stroke-width="1.3"/>
<line x1="612.8" y1="448.5" x2="620.2" y2="448.5" stroke="#000" stroke-width="1.3"/>
<rect x="610.3" y="450.3" width="12.40" height="12.30" fill="#fff" stroke="#000" stroke-width="1.3"/>
<line x1="634.5" y1="434.3" x2="634.5" y2="431.0" stroke="#222" stroke-width="1.3"/>
<line x1="631.3" y1="431.0" x2="637.7" y2="431.0" stroke="#222" stroke-width="1.3"/>
<rect x="628.5" y="434.3" width="12.10" height="28.30" fill="#ff0000" stroke="#111" stroke-width="1.3"/>
<line x1="664.5" y1="446.8" x2="664.5" y2="446.2" stroke="#000" stroke-width="1.3"/>
<line x1="661.0" y1="446.2" x2="668.0" y2="446.2" stroke="#000" stroke-width="1.3"/>
<rect x="658.3" y="446.8" width="12.40" height="15.80" fill="#fff" stroke="#000" stroke-width="1.3"/>
<line x1="682.5" y1="364.8" x2="682.5" y2="357.5" stroke="#000" stroke-width="1.3"/>
<line x1="678.7" y1="357.5" x2="686.3" y2="357.5" stroke="#000" stroke-width="1.3"/>
<rect x="676.5" y="364.8" width="12.00" height="97.80" fill="#ff0000" stroke="#111" stroke-width="1.3"/>
<line x1="625.6" y1="462.6" x2="625.6" y2="466.5" stroke="#000" stroke-width="1.3"/>
<line x1="672.8" y1="462.6" x2="672.8" y2="466.5" stroke="#000" stroke-width="1.3"/>
<path d="M616.1 429.6 V424.1 H634.1 V429.0" stroke="#333" stroke-width="1.2" fill="none" stroke-linejoin="round"/>
<text x="620.17" y="424.05" font-size="10.5" font-weight="bold" fill="#333" letter-spacing="0.2">***</text>
<path d="M664.4 355.2 V350.3 H682.3 V354.9" stroke="#333" stroke-width="1.2" fill="none" stroke-linejoin="round"/>
<text x="667.97" y="350.25" font-size="10.5" font-weight="bold" fill="#333" letter-spacing="0.2">***</text>
<text x="625.5" y="474.2" font-size="8.6" text-anchor="middle" font-weight="normal" fill="#1e1e1e" stroke="#1e1e1e" stroke-width="0.22" >24h</text>
<text x="672.8" y="474.2" font-size="8.6" text-anchor="middle" font-weight="normal" fill="#1e1e1e" stroke="#1e1e1e" stroke-width="0.22" >72h</text>
<text x="569.6" y="407.9" font-size="9.8" text-anchor="middle" font-weight="normal" fill="#1e1e1e" stroke="#1e1e1e" stroke-width="0.22" transform="rotate(-90 569.6 407.9)" >% of cells with</text>
<text x="580.2" y="408.0" font-size="9.8" text-anchor="middle" font-weight="normal" fill="#1e1e1e" stroke="#1e1e1e" stroke-width="0.22" transform="rotate(-90 580.2 408.0)" >High autophagic flux</text>
<rect x="711.2" y="351.9" width="12.70" height="4.90" fill="#fff" stroke="#333" stroke-width="1.2"/>
<rect x="711.2" y="365.2" width="12.70" height="4.40" fill="#ee0000" stroke="#333" stroke-width="1.2"/>
<text x="730.9" y="357.2" font-size="7.5" text-anchor="start" font-weight="bold" fill="#222" stroke="#222" stroke-width="0" letter-spacing="0.3">Control</text>
<text x="730.9" y="370.0" font-size="7.5" text-anchor="start" font-weight="bold" fill="#222" stroke="#222" stroke-width="0" letter-spacing="0.3">WAY</text>
</svg></body></html>
